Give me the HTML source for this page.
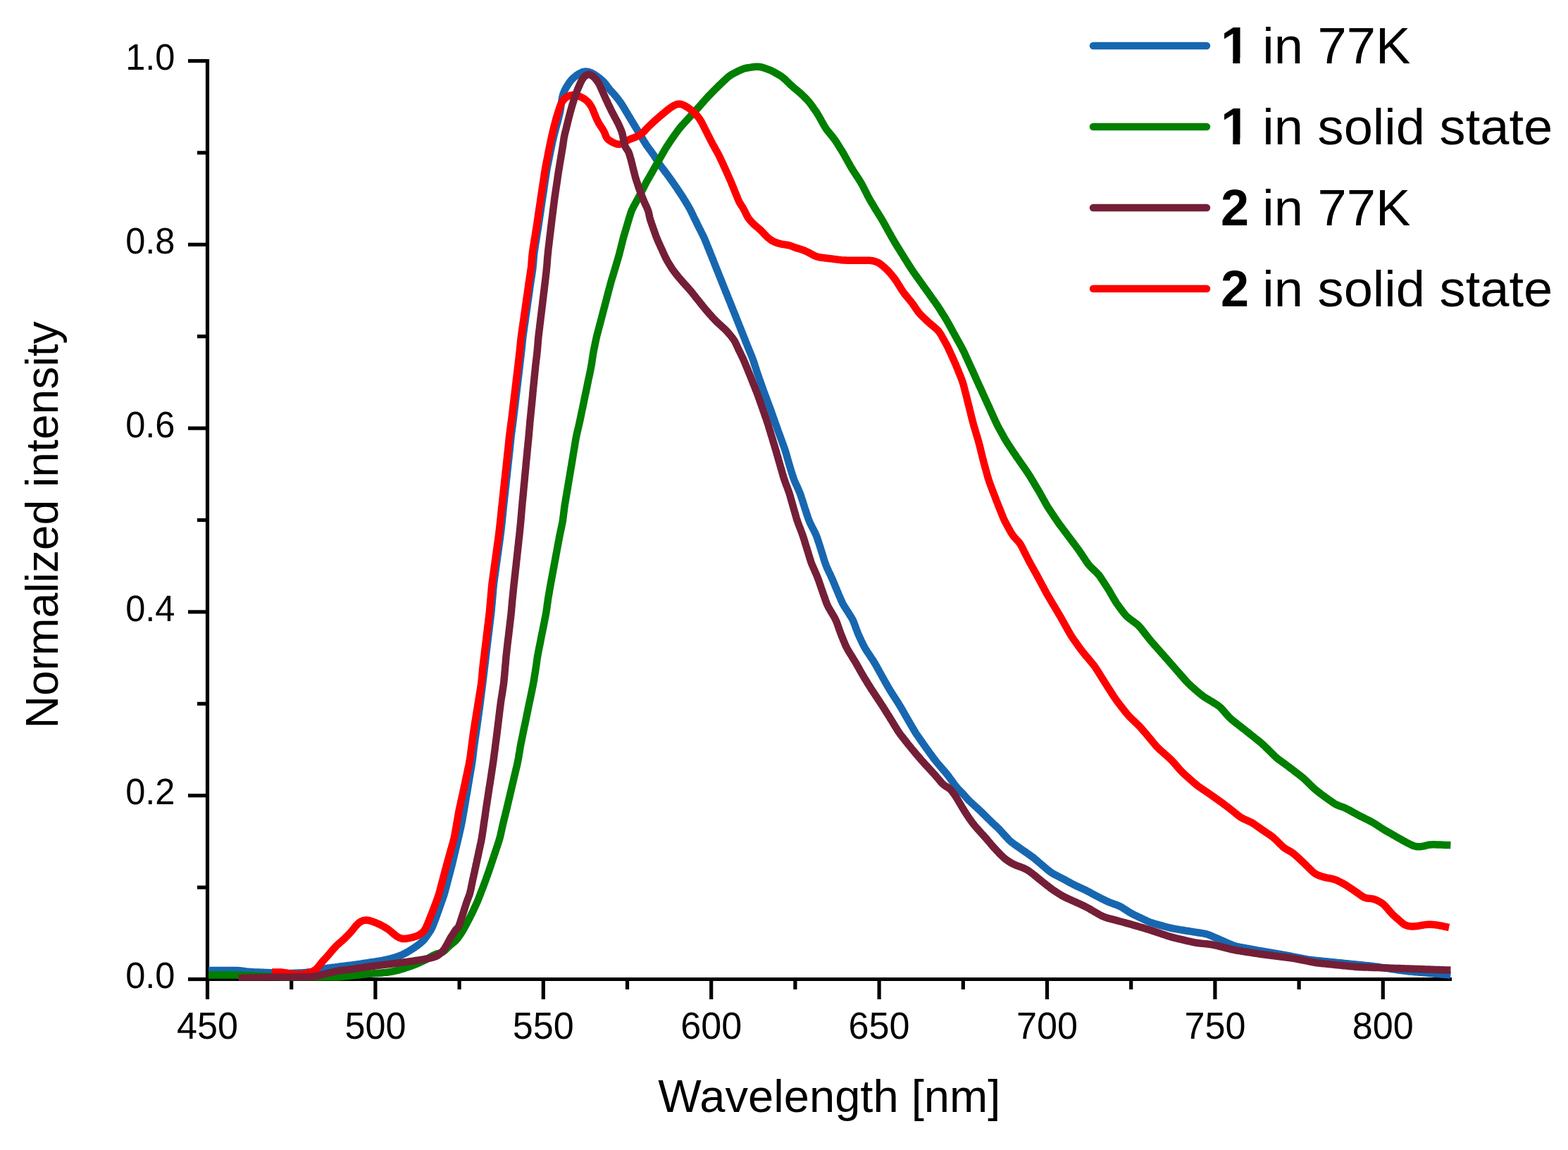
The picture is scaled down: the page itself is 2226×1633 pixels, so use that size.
<!DOCTYPE html><html><head><meta charset="utf-8"><title>Normalized emission spectra</title><style>html,body{margin:0;padding:0;background:#fff;overflow:hidden}svg{display:block}text{font-family:"Liberation Sans",Arial,sans-serif;fill:#000}.n1{font-family:NanumGothic,"Liberation Sans",sans-serif;font-weight:800}.n2{font-weight:bold}</style></head><body>
<svg xmlns="http://www.w3.org/2000/svg" width="2226" height="1633" viewBox="0 0 2226 1633">
<rect width="2226" height="1633" fill="#fff"/>
<g stroke="#000" stroke-width="5.2" fill="none">
<path d="M294.5 84V1393.1"/>
<path d="M291.9 1390.5H2061"/>
<path d="M267 1390.5H294.5"/>
<path d="M280 1260.1H294.5"/>
<path d="M267 1129.7H294.5"/>
<path d="M280 999.3H294.5"/>
<path d="M267 868.9H294.5"/>
<path d="M280 738.5H294.5"/>
<path d="M267 608.1H294.5"/>
<path d="M280 477.7H294.5"/>
<path d="M267 347.3H294.5"/>
<path d="M280 216.9H294.5"/>
<path d="M267 86.5H294.5"/>
<path d="M294.5 1390.5V1419"/>
<path d="M413.7 1390.5V1405"/>
<path d="M532.9 1390.5V1419"/>
<path d="M652.1 1390.5V1405"/>
<path d="M771.3 1390.5V1419"/>
<path d="M890.5 1390.5V1405"/>
<path d="M1009.7 1390.5V1419"/>
<path d="M1128.9 1390.5V1405"/>
<path d="M1248.1 1390.5V1419"/>
<path d="M1367.3 1390.5V1405"/>
<path d="M1486.5 1390.5V1419"/>
<path d="M1605.7 1390.5V1405"/>
<path d="M1724.9 1390.5V1419"/>
<path d="M1844.1 1390.5V1405"/>
<path d="M1963.3 1390.5V1419"/>
</g>
<clipPath id="pc"><rect x="294.5" y="80" width="1767" height="1312.5"/></clipPath>
<g clip-path="url(#pc)" fill="none" stroke-width="10.5" stroke-linejoin="round" stroke-linecap="butt">
<path d="M296.0 1378.0L298.0 1378.0 300.0 1378.0 302.0 1378.0 304.0 1378.0 306.0 1378.0 308.0 1378.0 310.0 1378.0 312.0 1378.0 314.0 1378.0 316.0 1378.0 318.0 1378.0 320.0 1378.0 322.0 1378.0 324.0 1378.0 326.0 1378.0 328.0 1378.0 330.0 1378.0 332.0 1378.0 334.0 1378.0 336.0 1378.1 338.0 1378.1 340.0 1378.3 342.0 1378.5 343.9 1378.7 345.9 1379.0 347.9 1379.3 349.9 1379.6 351.9 1379.8 353.8 1380.0 355.8 1380.1 357.8 1380.2 359.8 1380.3 361.8 1380.4 363.8 1380.5 365.8 1380.5 367.8 1380.6 369.8 1380.7 371.8 1380.8 373.8 1380.8 375.8 1380.9 377.8 1381.0 379.8 1381.1 381.8 1381.2 383.8 1381.3 385.8 1381.5 387.8 1381.6 389.8 1381.7 391.8 1381.8 393.8 1381.9 395.8 1381.9 397.8 1382.0 399.8 1382.0 401.8 1382.0 403.8 1382.0 405.8 1382.0 407.8 1382.0 409.8 1382.0 411.8 1381.9 413.8 1381.9 415.8 1381.9 417.8 1381.8 419.8 1381.8 421.8 1381.7 423.8 1381.6 425.8 1381.6 427.8 1381.5 429.8 1381.3 431.8 1381.2 433.7 1380.9 435.7 1380.7 437.7 1380.4 439.7 1380.1 441.7 1379.9 443.6 1379.6 445.6 1379.2 447.6 1378.9 449.5 1378.4 451.5 1378.0 453.4 1377.4 455.3 1376.9 457.2 1376.4 459.2 1375.9 461.1 1375.5 463.1 1375.1 465.0 1374.8 467.0 1374.5 469.0 1374.3 471.0 1374.0 473.0 1373.8 475.0 1373.6 477.0 1373.3 478.9 1373.1 480.9 1372.8 482.9 1372.5 484.9 1372.2 486.9 1372.0 488.8 1371.7 490.8 1371.5 492.8 1371.2 494.8 1371.0 496.8 1370.8 498.8 1370.6 500.8 1370.3 502.7 1370.1 504.7 1369.8 506.7 1369.5 508.7 1369.2 510.7 1368.9 512.6 1368.6 514.6 1368.3 516.6 1368.0 518.6 1367.7 520.5 1367.4 522.5 1367.1 524.5 1366.8 526.5 1366.5 528.5 1366.2 530.4 1365.9 532.4 1365.6 534.4 1365.3 536.4 1365.0 538.3 1364.7 540.3 1364.3 542.3 1364.0 544.2 1363.6 546.2 1363.1 548.1 1362.7 550.1 1362.3 552.0 1361.8 554.0 1361.4 555.9 1360.9 557.8 1360.3 559.8 1359.8 561.7 1359.2 563.6 1358.5 565.5 1357.9 567.3 1357.2 569.2 1356.5 571.0 1355.7 572.8 1354.8 574.6 1353.9 576.3 1353.0 578.1 1352.0 579.8 1351.0 581.5 1350.0 583.2 1348.9 584.9 1347.8 586.6 1346.8 588.3 1345.6 589.9 1344.5 591.5 1343.4 593.2 1342.2 594.7 1341.0 596.3 1339.7 597.8 1338.4 599.3 1337.1 600.7 1335.7 602.0 1334.2 603.3 1332.7 604.5 1331.1 605.7 1329.5 606.8 1327.8 607.9 1326.2 609.1 1324.5 610.2 1322.9 611.3 1321.2 612.2 1319.5 613.1 1317.7 614.0 1315.9 614.7 1314.1 615.4 1312.2 616.2 1310.4 616.9 1308.5 617.6 1306.6 618.3 1304.8 619.0 1302.9 619.7 1301.0 620.4 1299.1 621.0 1297.2 621.7 1295.4 622.4 1293.5 623.0 1291.6 623.7 1289.7 624.4 1287.8 625.0 1285.9 625.7 1284.0 626.4 1282.1 627.0 1280.3 627.7 1278.4 628.4 1276.5 629.0 1274.6 629.7 1272.7 630.3 1270.8 630.9 1268.9 631.4 1267.0 632.0 1265.1 632.5 1263.1 633.0 1261.2 633.5 1259.3 634.0 1257.3 634.5 1255.4 635.0 1253.5 635.5 1251.5 636.0 1249.6 636.5 1247.6 637.0 1245.7 637.5 1243.8 638.1 1241.8 638.6 1239.9 639.1 1238.0 639.6 1236.0 640.1 1234.1 640.6 1232.2 641.1 1230.2 641.6 1228.3 642.1 1226.4 642.5 1224.4 643.0 1222.5 643.5 1220.5 643.9 1218.6 644.4 1216.6 644.8 1214.7 645.3 1212.7 645.8 1210.8 646.2 1208.8 646.7 1206.9 647.1 1205.0 647.6 1203.0 648.1 1201.1 648.5 1199.1 649.0 1197.2 649.5 1195.2 649.9 1193.3 650.4 1191.3 650.8 1189.4 651.3 1187.4 651.7 1185.5 652.2 1183.5 652.6 1181.6 653.1 1179.6 653.5 1177.7 654.0 1175.7 654.4 1173.8 654.8 1171.8 655.2 1169.9 655.6 1167.9 656.0 1165.9 656.3 1164.0 656.7 1162.0 657.0 1160.0 657.4 1158.1 657.7 1156.1 658.1 1154.1 658.4 1152.2 658.8 1150.2 659.1 1148.2 659.4 1146.2 659.8 1144.3 660.1 1142.3 660.4 1140.3 660.8 1138.4 661.1 1136.4 661.4 1134.4 661.8 1132.4 662.1 1130.5 662.5 1128.5 662.8 1126.5 663.1 1124.6 663.5 1122.6 663.8 1120.6 664.1 1118.6 664.5 1116.7 664.8 1114.7 665.1 1112.7 665.5 1110.8 665.8 1108.8 666.1 1106.8 666.5 1104.8 666.8 1102.9 667.1 1100.9 667.5 1098.9 667.8 1097.0 668.2 1095.0 668.5 1093.0 668.8 1091.0 669.2 1089.1 669.5 1087.1 669.8 1085.1 670.1 1083.1 670.4 1081.2 670.7 1079.2 671.0 1077.2 671.2 1075.2 671.5 1073.2 671.7 1071.3 671.9 1069.3 672.2 1067.3 672.4 1065.3 672.6 1063.3 672.9 1061.3 673.1 1059.3 673.4 1057.4 673.7 1055.4 674.0 1053.4 674.2 1051.4 674.5 1049.4 674.8 1047.5 675.1 1045.5 675.4 1043.5 675.7 1041.5 676.0 1039.5 676.2 1037.6 676.5 1035.6 676.8 1033.6 677.1 1031.6 677.4 1029.6 677.6 1027.7 677.9 1025.7 678.2 1023.7 678.5 1021.7 678.7 1019.7 679.0 1017.8 679.3 1015.8 679.6 1013.8 679.8 1011.8 680.1 1009.8 680.4 1007.9 680.7 1005.9 681.0 1003.9 681.2 1001.9 681.5 999.9 681.7 997.9 682.0 996.0 682.2 994.0 682.5 992.0 682.7 990.0 683.0 988.0 683.2 986.0 683.5 984.0 683.7 982.1 684.0 980.1 684.2 978.1 684.5 976.1 684.7 974.1 685.0 972.1 685.2 970.2 685.4 968.2 685.7 966.2 685.9 964.2 686.2 962.2 686.4 960.2 686.7 958.2 686.9 956.3 687.2 954.3 687.4 952.3 687.6 950.3 687.9 948.3 688.1 946.3 688.3 944.3 688.6 942.4 688.8 940.4 689.0 938.4 689.3 936.4 689.5 934.4 689.7 932.4 690.0 930.4 690.2 928.5 690.4 926.5 690.7 924.5 690.9 922.5 691.2 920.5 691.4 918.5 691.6 916.5 691.9 914.6 692.1 912.6 692.4 910.6 692.6 908.6 692.8 906.6 693.1 904.6 693.3 902.6 693.6 900.7 693.8 898.7 694.1 896.7 694.3 894.7 694.5 892.7 694.8 890.7 695.0 888.7 695.3 886.8 695.5 884.8 695.7 882.8 696.0 880.8 696.2 878.8 696.5 876.8 696.7 874.8 696.9 872.9 697.2 870.9 697.4 868.9 697.6 866.9 697.8 864.9 697.9 862.9 698.1 860.9 698.3 858.9 698.5 856.9 698.7 854.9 698.8 853.0 699.0 851.0 699.2 849.0 699.4 847.0 699.5 845.0 699.7 843.0 699.9 841.0 700.0 839.0 700.2 837.0 700.4 835.0 700.6 833.0 700.8 831.0 701.0 829.1 701.2 827.1 701.5 825.1 701.8 823.1 702.0 821.1 702.3 819.1 702.6 817.2 702.9 815.2 703.1 813.2 703.4 811.2 703.7 809.2 704.0 807.3 704.2 805.3 704.5 803.3 704.8 801.3 705.1 799.3 705.3 797.3 705.6 795.4 705.9 793.4 706.1 791.4 706.4 789.4 706.7 787.4 707.0 785.5 707.2 783.5 707.5 781.5 707.8 779.5 708.1 777.5 708.3 775.6 708.6 773.6 708.9 771.6 709.2 769.6 709.4 767.6 709.7 765.6 710.0 763.7 710.2 761.7 710.5 759.7 710.7 757.7 711.0 755.7 711.2 753.7 711.4 751.8 711.7 749.8 711.9 747.8 712.1 745.8 712.4 743.8 712.6 741.8 712.8 739.8 713.0 737.8 713.2 735.9 713.4 733.9 713.6 731.9 713.8 729.9 714.0 727.9 714.2 725.9 714.4 723.9 714.6 721.9 714.8 719.9 715.0 717.9 715.2 716.0 715.5 714.0 715.7 712.0 715.9 710.0 716.1 708.0 716.3 706.0 716.5 704.0 716.8 702.0 717.0 700.1 717.2 698.1 717.4 696.1 717.6 694.1 717.8 692.1 718.1 690.1 718.3 688.1 718.5 686.1 718.7 684.1 718.9 682.2 719.1 680.2 719.3 678.2 719.6 676.2 719.8 674.2 720.0 672.2 720.2 670.2 720.4 668.2 720.6 666.2 720.9 664.3 721.1 662.3 721.3 660.3 721.5 658.3 721.7 656.3 721.9 654.3 722.2 652.3 722.4 650.3 722.6 648.4 722.8 646.4 723.0 644.4 723.2 642.4 723.4 640.4 723.7 638.4 723.9 636.4 724.1 634.4 724.3 632.4 724.5 630.5 724.7 628.5 724.9 626.5 725.1 624.5 725.3 622.5 725.5 620.5 725.7 618.5 726.0 616.5 726.2 614.6 726.5 612.6 726.8 610.6 727.0 608.6 727.3 606.6 727.6 604.6 727.8 602.7 728.1 600.7 728.3 598.7 728.6 596.7 728.8 594.7 729.1 592.7 729.3 590.7 729.5 588.8 729.8 586.8 730.0 584.8 730.3 582.8 730.5 580.8 730.7 578.8 731.0 576.8 731.2 574.9 731.5 572.9 731.7 570.9 731.9 568.9 732.2 566.9 732.4 564.9 732.6 562.9 732.9 561.0 733.1 559.0 733.4 557.0 733.6 555.0 733.8 553.0 734.1 551.0 734.3 549.0 734.6 547.1 734.8 545.1 735.0 543.1 735.3 541.1 735.5 539.1 735.7 537.1 736.0 535.1 736.2 533.2 736.5 531.2 736.7 529.2 736.9 527.2 737.2 525.2 737.4 523.2 737.6 521.2 737.9 519.3 738.1 517.3 738.3 515.3 738.6 513.3 738.8 511.3 739.0 509.3 739.3 507.3 739.5 505.4 739.7 503.4 739.9 501.4 740.1 499.4 740.4 497.4 740.6 495.4 740.8 493.4 741.0 491.4 741.2 489.4 741.4 487.5 741.6 485.5 741.8 483.5 742.0 481.5 742.2 479.5 742.5 477.5 742.7 475.5 743.0 473.6 743.3 471.6 743.6 469.6 743.9 467.6 744.1 465.6 744.4 463.7 744.7 461.7 745.0 459.7 745.3 457.7 745.6 455.7 745.8 453.8 746.1 451.8 746.4 449.8 746.7 447.8 747.0 445.8 747.3 443.9 747.5 441.9 747.8 439.9 748.1 437.9 748.4 435.9 748.7 434.0 748.9 432.0 749.2 430.0 749.5 428.0 749.8 426.0 750.1 424.1 750.4 422.1 750.6 420.1 750.9 418.1 751.2 416.1 751.5 414.2 751.8 412.2 752.0 410.2 752.3 408.2 752.6 406.2 752.9 404.3 753.2 402.3 753.5 400.3 753.8 398.3 754.1 396.3 754.4 394.4 754.7 392.4 755.0 390.4 755.3 388.4 755.6 386.5 755.9 384.5 756.2 382.5 756.4 380.5 756.6 378.5 756.8 376.5 757.0 374.5 757.2 372.6 757.3 370.6 757.5 368.6 757.6 366.6 757.8 364.6 758.0 362.6 758.2 360.6 758.4 358.6 758.7 356.6 759.0 354.7 759.3 352.7 759.6 350.7 759.9 348.7 760.2 346.8 760.5 344.8 760.9 342.8 761.2 340.8 761.5 338.9 761.8 336.9 762.1 334.9 762.4 332.9 762.7 331.0 763.1 329.0 763.4 327.0 763.7 325.0 764.0 323.1 764.3 321.1 764.6 319.1 764.9 317.1 765.2 315.1 765.5 313.2 765.8 311.2 766.1 309.2 766.4 307.2 766.7 305.3 767.0 303.3 767.3 301.3 767.6 299.3 767.8 297.3 768.1 295.4 768.4 293.4 768.7 291.4 769.0 289.4 769.3 287.4 769.6 285.5 769.9 283.5 770.2 281.5 770.5 279.5 770.8 277.6 771.1 275.6 771.4 273.6 771.7 271.6 772.0 269.6 772.3 267.7 772.5 265.7 772.8 263.7 773.1 261.7 773.4 259.8 773.7 257.8 774.0 255.8 774.3 253.8 774.6 251.8 774.9 249.9 775.2 247.9 775.5 245.9 775.8 243.9 776.1 242.0 776.5 240.0 776.8 238.0 777.2 236.1 777.6 234.1 778.0 232.1 778.4 230.2 778.8 228.2 779.2 226.3 779.6 224.3 780.0 222.3 780.4 220.4 780.8 218.4 781.2 216.5 781.6 214.5 782.0 212.5 782.4 210.6 782.8 208.6 783.2 206.7 783.6 204.7 784.0 202.8 784.5 200.8 784.9 198.8 785.4 196.9 785.8 195.0 786.3 193.0 786.8 191.1 787.3 189.1 787.8 187.2 788.3 185.3 788.8 183.3 789.3 181.4 789.8 179.5 790.3 177.5 790.9 175.6 791.4 173.7 791.9 171.7 792.4 169.8 792.9 167.9 793.4 165.9 793.9 164.0 794.3 162.0 794.8 160.1 795.2 158.1 795.5 156.2 795.8 154.2 796.1 152.2 796.4 150.2 796.7 148.3 797.0 146.3 797.3 144.3 797.6 142.3 797.9 140.4 798.3 138.4 798.7 136.5 799.2 134.5 799.8 132.6 800.6 130.8 801.3 129.0 802.2 127.2 803.2 125.4 804.2 123.7 805.2 122.0 806.2 120.3 807.3 118.6 808.5 117.0 809.6 115.4 810.9 113.9 812.3 112.4 813.7 111.0 815.2 109.7 816.7 108.4 818.3 107.2 819.9 106.1 821.6 105.0 823.3 104.1 825.1 103.2 826.9 102.4 828.7 101.9 830.6 101.6 832.5 101.6 834.3 101.8 836.2 102.3 838.0 102.9 839.9 103.7 841.6 104.6 843.3 105.6 845.0 106.6 846.7 107.8 848.3 108.9 849.9 110.1 851.5 111.3 853.0 112.6 854.5 113.9 856.0 115.3 857.4 116.7 858.7 118.2 860.0 119.7 861.2 121.3 862.4 122.9 863.5 124.5 864.8 126.1 866.0 127.6 867.3 129.1 868.7 130.6 870.0 132.0 871.4 133.5 872.7 135.0 874.0 136.5 875.3 138.1 876.5 139.6 877.7 141.2 878.9 142.8 880.1 144.4 881.3 146.1 882.4 147.7 883.4 149.4 884.5 151.1 885.6 152.8 886.6 154.5 887.6 156.2 888.6 158.0 889.7 159.7 890.7 161.4 891.7 163.1 892.8 164.8 893.8 166.5 894.8 168.2 895.8 170.0 896.9 171.7 897.9 173.4 898.9 175.1 900.0 176.8 901.0 178.5 902.0 180.2 903.1 182.0 904.1 183.7 905.2 185.4 906.2 187.1 907.3 188.8 908.3 190.5 909.4 192.2 910.4 193.9 911.4 195.6 912.4 197.3 913.4 199.1 914.5 200.8 915.5 202.5 916.5 204.2 917.6 205.9 918.8 207.5 919.9 209.1 921.1 210.7 922.3 212.3 923.5 213.9 924.7 215.5 925.9 217.2 927.0 218.8 928.2 220.4 929.2 222.1 930.3 223.8 931.4 225.5 932.4 227.2 933.5 228.9 934.6 230.6 935.7 232.3 936.8 233.9 937.9 235.5 939.1 237.1 940.3 238.7 941.5 240.3 942.8 241.9 944.0 243.5 945.2 245.1 946.4 246.7 947.6 248.3 948.8 249.9 949.9 251.5 951.1 253.2 952.3 254.8 953.4 256.4 954.6 258.0 955.7 259.7 956.9 261.3 958.0 263.0 959.1 264.6 960.3 266.3 961.4 267.9 962.5 269.6 963.6 271.3 964.7 272.9 965.8 274.6 966.9 276.3 968.0 277.9 969.1 279.6 970.2 281.3 971.2 283.0 972.3 284.7 973.3 286.4 974.3 288.1 975.4 289.8 976.4 291.5 977.4 293.3 978.4 295.0 979.4 296.8 980.3 298.5 981.2 300.3 982.0 302.1 982.9 303.9 983.8 305.7 984.6 307.5 985.5 309.3 986.4 311.1 987.3 312.9 988.2 314.7 989.1 316.5 989.9 318.3 990.8 320.1 991.7 321.9 992.6 323.7 993.5 325.4 994.4 327.2 995.3 329.0 996.2 330.8 997.1 332.6 998.0 334.4 998.8 336.2 999.7 338.0 1000.5 339.8 1001.3 341.7 1002.0 343.5 1002.8 345.4 1003.5 347.2 1004.3 349.1 1005.0 351.0 1005.8 352.8 1006.5 354.7 1007.3 356.5 1008.0 358.4 1008.7 360.2 1009.5 362.1 1010.2 363.9 1011.0 365.8 1011.7 367.7 1012.5 369.5 1013.2 371.4 1013.9 373.2 1014.7 375.1 1015.4 377.0 1016.2 378.8 1016.9 380.7 1017.6 382.5 1018.4 384.4 1019.1 386.2 1019.9 388.1 1020.6 390.0 1021.3 391.8 1022.1 393.7 1022.8 395.5 1023.6 397.4 1024.3 399.2 1025.1 401.1 1025.8 403.0 1026.5 404.8 1027.3 406.7 1028.0 408.5 1028.8 410.4 1029.5 412.2 1030.3 414.1 1031.0 415.9 1031.8 417.8 1032.5 419.7 1033.3 421.5 1034.0 423.4 1034.8 425.2 1035.5 427.1 1036.3 428.9 1037.0 430.8 1037.7 432.6 1038.5 434.5 1039.2 436.4 1040.0 438.2 1040.7 440.1 1041.5 441.9 1042.2 443.8 1043.0 445.6 1043.7 447.5 1044.5 449.3 1045.2 451.2 1045.9 453.1 1046.7 454.9 1047.4 456.8 1048.2 458.6 1048.9 460.5 1049.6 462.4 1050.4 464.2 1051.1 466.1 1051.8 467.9 1052.6 469.8 1053.3 471.6 1054.1 473.5 1054.8 475.4 1055.5 477.2 1056.3 479.1 1057.0 480.9 1057.7 482.8 1058.5 484.7 1059.2 486.5 1060.0 488.4 1060.7 490.2 1061.5 492.1 1062.2 493.9 1063.0 495.8 1063.7 497.6 1064.5 499.5 1065.2 501.3 1066.0 503.2 1066.8 505.0 1067.5 506.9 1068.2 508.8 1068.9 510.6 1069.6 512.5 1070.2 514.4 1070.8 516.3 1071.4 518.2 1072.0 520.1 1072.7 522.0 1073.3 523.9 1073.9 525.9 1074.5 527.8 1075.1 529.6 1075.8 531.5 1076.4 533.4 1077.1 535.3 1077.7 537.2 1078.4 539.1 1079.1 541.0 1079.7 542.9 1080.4 544.8 1081.1 546.6 1081.7 548.5 1082.4 550.4 1083.1 552.3 1083.7 554.2 1084.4 556.1 1085.1 557.9 1085.8 559.8 1086.5 561.7 1087.2 563.6 1087.9 565.4 1088.6 567.3 1089.3 569.2 1090.0 571.1 1090.7 572.9 1091.4 574.8 1092.1 576.7 1092.8 578.5 1093.5 580.4 1094.2 582.3 1094.9 584.2 1095.5 586.1 1096.2 588.0 1096.8 589.8 1097.5 591.7 1098.2 593.6 1098.8 595.5 1099.5 597.4 1100.2 599.3 1100.8 601.2 1101.5 603.0 1102.2 604.9 1102.9 606.8 1103.6 608.7 1104.2 610.6 1104.9 612.5 1105.6 614.3 1106.3 616.2 1107.0 618.1 1107.6 620.0 1108.3 621.9 1109.0 623.7 1109.7 625.6 1110.4 627.5 1111.0 629.4 1111.7 631.3 1112.4 633.1 1113.1 635.0 1113.7 636.9 1114.4 638.8 1115.0 640.7 1115.6 642.6 1116.1 644.5 1116.7 646.5 1117.2 648.4 1117.8 650.3 1118.3 652.2 1118.9 654.2 1119.4 656.1 1120.0 658.0 1120.5 659.9 1121.1 661.8 1121.7 663.8 1122.2 665.7 1122.8 667.6 1123.4 669.5 1124.0 671.4 1124.6 673.3 1125.2 675.2 1125.8 677.1 1126.5 679.0 1127.2 680.9 1127.9 682.7 1128.7 684.6 1129.5 686.4 1130.3 688.2 1131.2 690.0 1132.0 691.9 1132.8 693.7 1133.6 695.5 1134.4 697.3 1135.2 699.2 1135.9 701.0 1136.6 702.9 1137.2 704.8 1137.8 706.7 1138.5 708.6 1139.1 710.5 1139.7 712.4 1140.3 714.3 1140.9 716.2 1141.5 718.1 1142.1 720.0 1142.7 721.9 1143.4 723.9 1144.0 725.8 1144.6 727.7 1145.2 729.6 1145.8 731.5 1146.5 733.4 1147.1 735.3 1147.8 737.1 1148.5 739.0 1149.2 740.8 1150.1 742.7 1150.9 744.4 1151.8 746.2 1152.7 748.0 1153.6 749.8 1154.6 751.6 1155.5 753.4 1156.4 755.1 1157.2 756.9 1158.1 758.7 1158.9 760.6 1159.6 762.4 1160.3 764.3 1160.9 766.2 1161.5 768.1 1162.2 770.0 1162.8 771.9 1163.4 773.8 1164.0 775.7 1164.6 777.6 1165.2 779.5 1165.8 781.4 1166.4 783.3 1167.0 785.3 1167.6 787.2 1168.2 789.1 1168.8 791.0 1169.3 792.9 1169.9 794.8 1170.5 796.7 1171.2 798.6 1171.8 800.5 1172.5 802.4 1173.2 804.2 1174.0 806.1 1174.8 807.9 1175.7 809.7 1176.5 811.5 1177.4 813.3 1178.3 815.1 1179.1 816.9 1179.9 818.8 1180.8 820.6 1181.6 822.4 1182.4 824.3 1183.1 826.1 1183.9 827.9 1184.7 829.8 1185.4 831.6 1186.2 833.5 1187.0 835.3 1187.8 837.2 1188.5 839.0 1189.3 840.9 1190.1 842.7 1190.8 844.6 1191.6 846.4 1192.4 848.2 1193.2 850.1 1193.9 851.9 1194.8 853.7 1195.6 855.5 1196.5 857.3 1197.5 859.0 1198.5 860.8 1199.6 862.5 1200.7 864.1 1201.7 865.8 1202.8 867.5 1203.9 869.2 1205.0 870.9 1206.0 872.6 1207.1 874.3 1208.2 876.0 1209.2 877.7 1210.1 879.4 1211.0 881.2 1211.8 883.0 1212.5 884.9 1213.3 886.8 1213.9 888.6 1214.6 890.5 1215.3 892.4 1216.0 894.3 1216.7 896.1 1217.4 898.0 1218.2 899.8 1219.0 901.7 1219.8 903.5 1220.6 905.3 1221.5 907.1 1222.3 909.0 1223.2 910.8 1224.0 912.6 1224.9 914.4 1225.7 916.2 1226.7 917.9 1227.6 919.7 1228.6 921.4 1229.7 923.1 1230.8 924.8 1231.9 926.5 1233.0 928.1 1234.1 929.8 1235.2 931.4 1236.3 933.1 1237.4 934.8 1238.6 936.4 1239.6 938.1 1240.7 939.8 1241.7 941.5 1242.7 943.2 1243.7 945.0 1244.7 946.7 1245.7 948.5 1246.6 950.2 1247.6 952.0 1248.5 953.7 1249.5 955.5 1250.5 957.2 1251.5 959.0 1252.4 960.7 1253.4 962.5 1254.4 964.2 1255.4 966.0 1256.3 967.7 1257.3 969.4 1258.3 971.2 1259.3 972.9 1260.3 974.7 1261.3 976.4 1262.3 978.1 1263.3 979.8 1264.4 981.5 1265.4 983.2 1266.5 984.9 1267.6 986.6 1268.7 988.3 1269.8 990.0 1270.9 991.6 1271.9 993.3 1273.0 995.0 1274.1 996.7 1275.2 998.4 1276.2 1000.1 1277.3 1001.8 1278.3 1003.5 1279.3 1005.2 1280.3 1006.9 1281.3 1008.7 1282.3 1010.4 1283.3 1012.1 1284.3 1013.9 1285.3 1015.6 1286.3 1017.4 1287.3 1019.1 1288.3 1020.8 1289.3 1022.6 1290.3 1024.3 1291.3 1026.0 1292.3 1027.8 1293.3 1029.5 1294.3 1031.2 1295.3 1033.0 1296.3 1034.7 1297.3 1036.4 1298.3 1038.1 1299.4 1039.8 1300.4 1041.5 1301.5 1043.2 1302.7 1044.8 1303.8 1046.4 1305.0 1048.1 1306.1 1049.7 1307.3 1051.4 1308.4 1053.0 1309.6 1054.6 1310.7 1056.3 1311.9 1057.9 1313.0 1059.5 1314.2 1061.2 1315.3 1062.8 1316.5 1064.4 1317.7 1066.0 1318.9 1067.7 1320.0 1069.3 1321.2 1070.9 1322.4 1072.5 1323.6 1074.1 1324.7 1075.7 1325.9 1077.4 1327.1 1078.9 1328.4 1080.5 1329.6 1082.1 1330.9 1083.6 1332.2 1085.1 1333.5 1086.6 1334.8 1088.2 1336.1 1089.7 1337.4 1091.2 1338.7 1092.7 1340.0 1094.2 1341.3 1095.7 1342.6 1097.3 1343.9 1098.8 1345.1 1100.4 1346.4 1102.0 1347.6 1103.6 1348.7 1105.2 1349.9 1106.8 1351.1 1108.4 1352.3 1110.0 1353.4 1111.6 1354.6 1113.3 1355.8 1114.9 1357.0 1116.5 1358.3 1118.0 1359.5 1119.5 1360.9 1121.0 1362.3 1122.4 1363.7 1123.8 1365.1 1125.2 1366.5 1126.6 1367.9 1128.1 1369.2 1129.6 1370.5 1131.1 1371.8 1132.6 1373.1 1134.1 1374.5 1135.6 1375.9 1137.0 1377.3 1138.4 1378.8 1139.7 1380.3 1141.1 1381.8 1142.4 1383.3 1143.7 1384.7 1145.1 1386.2 1146.4 1387.7 1147.8 1389.2 1149.1 1390.6 1150.5 1392.1 1151.9 1393.5 1153.3 1394.9 1154.7 1396.4 1156.1 1397.8 1157.5 1399.2 1158.9 1400.6 1160.3 1402.0 1161.7 1403.4 1163.1 1404.9 1164.5 1406.3 1165.9 1407.7 1167.3 1409.2 1168.7 1410.6 1170.1 1412.1 1171.4 1413.6 1172.8 1415.0 1174.1 1416.5 1175.5 1417.9 1176.9 1419.3 1178.4 1420.6 1179.8 1422.0 1181.3 1423.3 1182.8 1424.7 1184.3 1426.0 1185.8 1427.4 1187.2 1428.7 1188.7 1430.1 1190.2 1431.4 1191.6 1432.8 1193.1 1434.3 1194.4 1435.8 1195.7 1437.4 1196.9 1439.0 1198.1 1440.6 1199.3 1442.2 1200.4 1443.9 1201.6 1445.5 1202.7 1447.2 1203.9 1448.8 1205.0 1450.4 1206.2 1452.1 1207.3 1453.7 1208.4 1455.4 1209.6 1457.0 1210.7 1458.6 1211.9 1460.3 1213.0 1461.9 1214.2 1463.5 1215.3 1465.2 1216.5 1466.8 1217.7 1468.3 1218.9 1469.9 1220.2 1471.4 1221.5 1472.9 1222.8 1474.4 1224.1 1475.9 1225.4 1477.4 1226.7 1479.0 1228.0 1480.5 1229.3 1482.0 1230.6 1483.5 1231.9 1485.1 1233.2 1486.6 1234.5 1488.1 1235.8 1489.7 1237.0 1491.3 1238.2 1492.9 1239.3 1494.6 1240.4 1496.3 1241.4 1498.1 1242.3 1499.9 1243.2 1501.6 1244.1 1503.4 1245.0 1505.2 1246.0 1507.0 1246.9 1508.8 1247.8 1510.5 1248.7 1512.3 1249.7 1514.0 1250.6 1515.8 1251.6 1517.6 1252.6 1519.3 1253.5 1521.1 1254.5 1522.8 1255.4 1524.6 1256.3 1526.4 1257.2 1528.2 1258.1 1530.0 1258.9 1531.8 1259.7 1533.7 1260.6 1535.5 1261.4 1537.3 1262.2 1539.1 1263.1 1540.9 1263.9 1542.7 1264.8 1544.5 1265.8 1546.2 1266.7 1548.0 1267.7 1549.7 1268.6 1551.5 1269.6 1553.3 1270.5 1555.0 1271.5 1556.8 1272.4 1558.6 1273.3 1560.3 1274.2 1562.1 1275.2 1563.9 1276.1 1565.7 1276.9 1567.5 1277.8 1569.3 1278.7 1571.1 1279.6 1572.9 1280.4 1574.7 1281.2 1576.6 1281.9 1578.5 1282.6 1580.4 1283.3 1582.2 1283.9 1584.1 1284.6 1586.0 1285.3 1587.8 1286.1 1589.6 1286.9 1591.4 1287.8 1593.1 1288.8 1594.8 1289.9 1596.5 1291.0 1598.2 1292.0 1599.9 1293.1 1601.5 1294.2 1603.2 1295.3 1605.0 1296.3 1606.7 1297.3 1608.5 1298.2 1610.2 1299.1 1612.0 1300.0 1613.8 1300.8 1615.6 1301.7 1617.5 1302.6 1619.3 1303.4 1621.1 1304.3 1622.9 1305.1 1624.7 1306.0 1626.5 1306.8 1628.3 1307.7 1630.1 1308.5 1632.0 1309.3 1633.8 1310.0 1635.7 1310.6 1637.6 1311.2 1639.5 1311.8 1641.5 1312.3 1643.4 1312.8 1645.3 1313.4 1647.2 1313.9 1649.2 1314.4 1651.1 1314.9 1653.0 1315.5 1655.0 1316.0 1656.9 1316.5 1658.8 1317.0 1660.8 1317.5 1662.7 1317.9 1664.7 1318.4 1666.6 1318.7 1668.6 1319.1 1670.6 1319.4 1672.5 1319.7 1674.5 1320.1 1676.5 1320.4 1678.5 1320.7 1680.4 1321.0 1682.4 1321.4 1684.4 1321.7 1686.4 1322.0 1688.3 1322.3 1690.3 1322.6 1692.3 1322.9 1694.3 1323.3 1696.2 1323.6 1698.2 1323.9 1700.2 1324.2 1702.2 1324.5 1704.1 1324.8 1706.1 1325.1 1708.1 1325.4 1710.0 1325.8 1712.0 1326.2 1713.9 1326.8 1715.8 1327.4 1717.6 1328.1 1719.5 1328.9 1721.3 1329.7 1723.1 1330.5 1725.0 1331.3 1726.8 1332.1 1728.6 1332.9 1730.5 1333.7 1732.3 1334.5 1734.1 1335.3 1735.9 1336.1 1737.8 1336.9 1739.6 1337.7 1741.4 1338.5 1743.3 1339.4 1745.1 1340.2 1746.9 1340.9 1748.8 1341.7 1750.6 1342.4 1752.5 1343.1 1754.4 1343.6 1756.4 1344.1 1758.3 1344.5 1760.3 1344.9 1762.2 1345.2 1764.2 1345.6 1766.2 1346.0 1768.1 1346.3 1770.1 1346.7 1772.1 1347.0 1774.0 1347.4 1776.0 1347.8 1778.0 1348.1 1779.9 1348.5 1781.9 1348.9 1783.9 1349.2 1785.8 1349.6 1787.8 1349.9 1789.8 1350.3 1791.7 1350.6 1793.7 1351.0 1795.7 1351.3 1797.7 1351.6 1799.6 1352.0 1801.6 1352.3 1803.6 1352.6 1805.5 1353.0 1807.5 1353.3 1809.5 1353.6 1811.5 1354.0 1813.4 1354.3 1815.4 1354.6 1817.4 1355.0 1819.4 1355.3 1821.3 1355.7 1823.3 1356.0 1825.3 1356.4 1827.2 1356.7 1829.2 1357.1 1831.1 1357.5 1833.1 1357.9 1835.1 1358.3 1837.0 1358.7 1839.0 1359.1 1841.0 1359.5 1842.9 1359.8 1844.9 1360.2 1846.8 1360.6 1848.8 1361.0 1850.8 1361.4 1852.7 1361.8 1854.7 1362.1 1856.7 1362.5 1858.6 1362.8 1860.6 1363.0 1862.6 1363.3 1864.6 1363.5 1866.6 1363.7 1868.6 1363.9 1870.6 1364.1 1872.6 1364.3 1874.5 1364.5 1876.5 1364.7 1878.5 1364.9 1880.5 1365.1 1882.5 1365.3 1884.5 1365.5 1886.5 1365.7 1888.5 1365.9 1890.5 1366.1 1892.5 1366.3 1894.4 1366.5 1896.4 1366.7 1898.4 1366.9 1900.4 1367.1 1902.4 1367.3 1904.4 1367.5 1906.4 1367.7 1908.4 1367.9 1910.4 1368.1 1912.4 1368.3 1914.3 1368.5 1916.3 1368.7 1918.3 1368.9 1920.3 1369.1 1922.3 1369.3 1924.3 1369.5 1926.3 1369.7 1928.3 1369.9 1930.3 1370.1 1932.3 1370.3 1934.2 1370.5 1936.2 1370.7 1938.2 1370.9 1940.2 1371.1 1942.2 1371.3 1944.2 1371.5 1946.2 1371.7 1948.2 1371.9 1950.2 1372.2 1952.1 1372.4 1954.1 1372.7 1956.1 1373.0 1958.1 1373.3 1960.0 1373.6 1962.0 1373.9 1964.0 1374.2 1966.0 1374.5 1968.0 1374.8 1969.9 1375.1 1971.9 1375.4 1973.9 1375.7 1975.9 1376.0 1977.8 1376.3 1979.8 1376.6 1981.8 1376.9 1983.8 1377.2 1985.8 1377.5 1987.7 1377.8 1989.7 1378.0 1991.7 1378.3 1993.7 1378.6 1995.7 1378.8 1997.6 1379.1 1999.6 1379.3 2001.6 1379.5 2003.6 1379.6 2005.6 1379.8 2007.6 1380.0 2009.6 1380.2 2011.6 1380.3 2013.6 1380.5 2015.6 1380.7 2017.6 1380.9 2019.6 1381.1 2021.5 1381.2 2023.5 1381.4 2025.5 1381.6 2027.5 1381.8 2029.5 1381.9 2031.5 1382.1 2033.5 1382.3 2035.5 1382.5 2037.5 1382.7 2039.5 1382.8 2041.5 1383.0 2043.5 1383.2 2045.5 1383.4 2047.4 1383.5 2049.4 1383.7 2051.4 1383.9 2053.4 1384.1 2055.4 1384.2 2057.4 1384.4 2059.4 1384.6" stroke="#1767b0"/>
<path d="M296.0 1384.4L298.0 1384.4 300.0 1384.4 302.0 1384.4 304.0 1384.4 306.0 1384.4 308.0 1384.5 310.0 1384.5 312.0 1384.5 314.0 1384.5 316.0 1384.5 318.0 1384.5 320.0 1384.5 322.0 1384.5 324.0 1384.5 326.0 1384.5 328.0 1384.6 330.0 1384.6 332.0 1384.6 334.0 1384.6 336.0 1384.6 338.0 1384.7 340.0 1384.7 342.0 1384.8 344.0 1384.9 346.0 1385.0 348.0 1385.1 350.0 1385.1 352.0 1385.2 354.0 1385.3 356.0 1385.4 358.0 1385.5 360.0 1385.6 362.0 1385.7 364.0 1385.8 366.0 1385.9 368.0 1386.0 370.0 1386.0 372.0 1386.1 374.0 1386.2 376.0 1386.3 378.0 1386.4 380.0 1386.5 382.0 1386.6 384.0 1386.7 386.0 1386.8 388.0 1386.9 390.0 1387.0 392.0 1387.1 394.0 1387.2 396.0 1387.3 398.0 1387.4 399.9 1387.5 401.9 1387.6 403.9 1387.7 405.9 1387.8 407.9 1387.9 409.9 1388.0 411.9 1388.1 413.9 1388.2 415.9 1388.3 417.9 1388.4 419.9 1388.5 421.9 1388.5 423.9 1388.6 425.9 1388.7 427.9 1388.7 429.9 1388.8 431.9 1388.8 433.9 1388.9 435.9 1388.9 437.9 1389.0 439.9 1389.0 441.9 1389.1 443.9 1389.1 445.9 1389.2 447.9 1389.2 449.9 1389.2 451.9 1389.2 453.9 1389.1 455.9 1389.1 457.9 1389.0 459.9 1388.9 461.9 1388.8 463.9 1388.7 465.9 1388.6 467.9 1388.5 469.9 1388.4 471.9 1388.2 473.9 1388.1 475.9 1387.8 477.9 1387.6 479.9 1387.4 481.8 1387.2 483.8 1387.0 485.8 1386.8 487.8 1386.6 489.8 1386.4 491.8 1386.2 493.8 1386.0 495.8 1385.8 497.8 1385.6 499.8 1385.4 501.7 1385.2 503.7 1385.0 505.7 1384.8 507.7 1384.6 509.7 1384.4 511.7 1384.2 513.7 1383.9 515.7 1383.7 517.7 1383.5 519.6 1383.3 521.6 1383.1 523.6 1382.9 525.6 1382.7 527.6 1382.6 529.6 1382.4 531.6 1382.2 533.6 1382.1 535.6 1381.9 537.6 1381.8 539.6 1381.7 541.6 1381.5 543.6 1381.3 545.6 1381.1 547.5 1380.9 549.5 1380.7 551.5 1380.4 553.5 1380.1 555.4 1379.7 557.4 1379.4 559.4 1379.0 561.3 1378.5 563.3 1378.1 565.2 1377.6 567.1 1377.1 569.1 1376.5 571.0 1376.0 572.9 1375.4 574.8 1374.7 576.7 1374.1 578.6 1373.5 580.5 1372.8 582.4 1372.2 584.2 1371.5 586.1 1370.8 588.0 1370.1 589.9 1369.4 591.7 1368.6 593.5 1367.9 595.4 1367.0 597.2 1366.2 599.0 1365.4 600.8 1364.5 602.6 1363.6 604.4 1362.7 606.2 1361.8 607.9 1360.9 609.7 1359.9 611.4 1358.9 613.1 1357.9 614.8 1356.9 616.6 1356.0 618.4 1355.2 620.2 1354.6 622.1 1354.0 624.0 1353.5 625.8 1352.9 627.6 1352.2 629.2 1351.2 630.8 1350.1 632.2 1348.8 633.7 1347.4 635.1 1346.0 636.5 1344.6 638.0 1343.2 639.4 1341.9 641.0 1340.6 642.5 1339.4 644.1 1338.1 645.6 1336.9 647.0 1335.5 648.3 1334.0 649.6 1332.5 650.8 1330.9 651.9 1329.3 653.1 1327.7 654.2 1326.0 655.3 1324.3 656.3 1322.6 657.4 1320.9 658.4 1319.2 659.3 1317.4 660.3 1315.7 661.2 1313.9 662.2 1312.1 663.1 1310.4 664.0 1308.6 665.0 1306.8 665.9 1305.1 666.8 1303.3 667.7 1301.5 668.6 1299.7 669.5 1297.9 670.4 1296.1 671.2 1294.3 672.1 1292.5 672.9 1290.7 673.8 1288.9 674.6 1287.1 675.4 1285.3 676.3 1283.4 677.1 1281.6 677.9 1279.8 678.7 1277.9 679.4 1276.1 680.1 1274.2 680.9 1272.3 681.6 1270.5 682.3 1268.6 683.0 1266.7 683.7 1264.9 684.5 1263.0 685.2 1261.1 685.9 1259.3 686.6 1257.4 687.3 1255.5 688.0 1253.7 688.7 1251.8 689.4 1249.9 690.1 1248.0 690.7 1246.1 691.4 1244.3 692.1 1242.4 692.7 1240.5 693.4 1238.6 694.1 1236.7 694.7 1234.8 695.4 1232.9 696.0 1231.0 696.7 1229.1 697.3 1227.2 697.9 1225.4 698.6 1223.5 699.2 1221.6 699.8 1219.7 700.5 1217.8 701.1 1215.9 701.7 1214.0 702.4 1212.1 703.0 1210.2 703.6 1208.3 704.3 1206.4 704.9 1204.5 705.5 1202.6 706.2 1200.7 706.8 1198.8 707.4 1196.9 708.0 1195.0 708.6 1193.1 709.2 1191.2 709.7 1189.2 710.2 1187.3 710.7 1185.3 711.1 1183.4 711.5 1181.4 712.0 1179.5 712.4 1177.5 712.8 1175.6 713.2 1173.6 713.7 1171.7 714.1 1169.7 714.6 1167.8 715.1 1165.8 715.5 1163.9 716.0 1161.9 716.5 1160.0 717.0 1158.1 717.5 1156.1 717.9 1154.2 718.4 1152.2 718.9 1150.3 719.4 1148.4 719.8 1146.4 720.3 1144.5 720.8 1142.5 721.2 1140.6 721.7 1138.6 722.1 1136.7 722.6 1134.7 723.1 1132.8 723.5 1130.8 724.0 1128.9 724.4 1126.9 724.9 1125.0 725.4 1123.0 725.8 1121.1 726.3 1119.2 726.7 1117.2 727.2 1115.3 727.6 1113.3 728.1 1111.4 728.6 1109.4 729.0 1107.5 729.5 1105.5 729.9 1103.6 730.4 1101.6 730.9 1099.7 731.3 1097.7 731.8 1095.8 732.2 1093.8 732.7 1091.9 733.2 1089.9 733.6 1088.0 734.1 1086.1 734.5 1084.1 734.9 1082.2 735.3 1080.2 735.7 1078.2 736.1 1076.3 736.4 1074.3 736.7 1072.3 737.0 1070.3 737.4 1068.4 737.7 1066.4 738.0 1064.4 738.3 1062.4 738.7 1060.5 739.0 1058.5 739.4 1056.5 739.8 1054.6 740.2 1052.6 740.6 1050.7 741.0 1048.7 741.4 1046.7 741.8 1044.8 742.2 1042.8 742.6 1040.9 743.0 1038.9 743.4 1036.9 743.8 1035.0 744.2 1033.0 744.6 1031.1 745.1 1029.1 745.5 1027.2 745.9 1025.2 746.3 1023.2 746.7 1021.3 747.1 1019.3 747.5 1017.4 747.9 1015.4 748.3 1013.4 748.7 1011.5 749.1 1009.5 749.5 1007.6 749.9 1005.6 750.3 1003.6 750.7 1001.7 751.1 999.7 751.5 997.8 752.0 995.8 752.4 993.9 752.8 991.9 753.2 989.9 753.6 988.0 754.0 986.0 754.4 984.1 754.8 982.1 755.2 980.1 755.6 978.2 756.0 976.2 756.4 974.3 756.8 972.3 757.2 970.3 757.5 968.4 757.9 966.4 758.2 964.4 758.5 962.5 758.8 960.5 759.1 958.5 759.5 956.5 759.8 954.6 760.1 952.6 760.4 950.6 760.7 948.6 761.0 946.6 761.3 944.7 761.6 942.7 761.8 940.7 762.1 938.7 762.4 936.7 762.7 934.8 763.0 932.8 763.3 930.8 763.7 928.8 764.1 926.9 764.4 924.9 764.8 923.0 765.2 921.0 765.6 919.0 766.0 917.1 766.4 915.1 766.8 913.1 767.2 911.2 767.6 909.2 767.9 907.3 768.3 905.3 768.7 903.3 769.1 901.4 769.5 899.4 769.9 897.5 770.3 895.5 770.7 893.5 771.1 891.6 771.5 889.6 771.9 887.6 772.3 885.7 772.7 883.7 773.0 881.8 773.4 879.8 773.8 877.8 774.2 875.9 774.6 873.9 775.0 871.9 775.3 870.0 775.6 868.0 775.9 866.0 776.2 864.0 776.5 862.1 776.7 860.1 777.0 858.1 777.3 856.1 777.6 854.1 777.8 852.2 778.1 850.2 778.4 848.2 778.8 846.2 779.1 844.3 779.5 842.3 779.8 840.3 780.1 838.3 780.5 836.4 780.8 834.4 781.2 832.4 781.5 830.5 781.9 828.5 782.2 826.5 782.6 824.6 783.0 822.6 783.3 820.6 783.7 818.7 784.1 816.7 784.4 814.7 784.8 812.8 785.2 810.8 785.5 808.8 785.9 806.9 786.3 804.9 786.6 802.9 787.0 801.0 787.4 799.0 787.7 797.0 788.1 795.1 788.5 793.1 788.8 791.1 789.2 789.2 789.5 787.2 789.9 785.2 790.3 783.3 790.6 781.3 791.0 779.3 791.4 777.4 791.7 775.4 792.1 773.4 792.5 771.5 792.8 769.5 793.2 767.5 793.6 765.6 793.9 763.6 794.3 761.6 794.7 759.7 795.1 757.7 795.5 755.8 795.9 753.8 796.4 751.8 796.8 749.9 797.2 747.9 797.6 746.0 798.0 744.0 798.4 742.1 798.7 740.1 799.1 738.1 799.3 736.1 799.6 734.1 799.8 732.2 800.1 730.2 800.3 728.2 800.6 726.2 800.8 724.2 801.1 722.2 801.3 720.3 801.6 718.3 801.9 716.3 802.3 714.3 802.6 712.4 802.9 710.4 803.2 708.4 803.6 706.4 803.9 704.5 804.2 702.5 804.6 700.5 804.9 698.5 805.2 696.6 805.6 694.6 805.9 692.6 806.2 690.7 806.5 688.7 806.9 686.7 807.2 684.7 807.5 682.8 807.9 680.8 808.2 678.8 808.5 676.8 808.9 674.9 809.2 672.9 809.5 670.9 809.9 669.0 810.2 667.0 810.5 665.0 810.8 663.0 811.2 661.1 811.5 659.1 811.8 657.1 812.2 655.1 812.5 653.2 812.8 651.2 813.2 649.2 813.5 647.3 813.8 645.3 814.1 643.3 814.5 641.3 814.8 639.4 815.1 637.4 815.5 635.4 815.8 633.4 816.1 631.5 816.4 629.5 816.8 627.5 817.1 625.5 817.4 623.6 817.8 621.6 818.2 619.6 818.6 617.7 819.0 615.7 819.5 613.8 819.9 611.8 820.4 609.9 820.8 607.9 821.3 606.0 821.7 604.0 822.2 602.1 822.6 600.1 823.1 598.2 823.5 596.2 823.9 594.3 824.3 592.3 824.7 590.4 825.1 588.4 825.5 586.4 825.9 584.5 826.3 582.5 826.8 580.6 827.2 578.6 827.6 576.7 828.0 574.7 828.4 572.7 828.8 570.8 829.2 568.8 829.6 566.9 830.0 564.9 830.4 563.0 830.8 561.0 831.3 559.0 831.7 557.1 832.1 555.1 832.5 553.2 832.9 551.2 833.3 549.2 833.7 547.3 834.1 545.3 834.5 543.4 834.9 541.4 835.3 539.5 835.7 537.5 836.2 535.5 836.6 533.6 837.0 531.6 837.4 529.7 837.8 527.7 838.2 525.7 838.6 523.8 839.0 521.8 839.3 519.9 839.7 517.9 840.0 515.9 840.3 513.9 840.6 512.0 840.9 510.0 841.2 508.0 841.5 506.0 841.8 504.0 842.1 502.1 842.5 500.1 842.8 498.1 843.2 496.2 843.6 494.2 844.0 492.3 844.4 490.3 844.8 488.3 845.2 486.4 845.6 484.4 846.0 482.5 846.5 480.5 846.9 478.6 847.4 476.6 847.9 474.7 848.4 472.7 848.9 470.8 849.4 468.9 849.9 466.9 850.4 465.0 850.9 463.1 851.5 461.1 852.0 459.2 852.5 457.3 853.0 455.3 853.5 453.4 854.0 451.5 854.5 449.5 855.0 447.6 855.5 445.7 856.0 443.7 856.5 441.8 857.0 439.9 857.5 437.9 858.1 436.0 858.6 434.1 859.1 432.1 859.6 430.2 860.1 428.2 860.6 426.3 861.1 424.4 861.6 422.4 862.1 420.5 862.6 418.6 863.1 416.6 863.6 414.7 864.1 412.8 864.7 410.8 865.2 408.9 865.7 407.0 866.2 405.0 866.7 403.1 867.2 401.2 867.8 399.2 868.3 397.3 868.9 395.4 869.5 393.5 870.1 391.6 870.7 389.7 871.2 387.8 871.8 385.8 872.4 383.9 873.0 382.0 873.5 380.1 874.1 378.2 874.7 376.3 875.2 374.3 875.8 372.4 876.4 370.5 876.9 368.6 877.5 366.7 878.0 364.7 878.6 362.8 879.1 360.9 879.6 358.9 880.1 357.0 880.6 355.1 881.1 353.1 881.6 351.2 882.0 349.2 882.5 347.3 883.0 345.4 883.5 343.4 884.0 341.5 884.5 339.5 885.0 337.6 885.5 335.7 886.1 333.8 886.7 331.9 887.2 329.9 887.8 328.0 888.4 326.1 889.0 324.2 889.5 322.3 890.1 320.3 890.7 318.4 891.2 316.5 891.8 314.6 892.4 312.7 892.9 310.8 893.5 308.8 894.1 306.9 894.7 305.0 895.3 303.1 895.9 301.2 896.6 299.4 897.4 297.5 898.3 295.7 899.2 294.0 900.1 292.2 901.1 290.4 902.0 288.7 903.0 286.9 903.9 285.2 904.9 283.4 905.8 281.7 906.8 279.9 907.7 278.1 908.7 276.4 909.6 274.6 910.5 272.8 911.4 271.0 912.3 269.2 913.2 267.5 914.1 265.7 915.0 263.9 915.9 262.1 916.8 260.3 917.7 258.5 918.7 256.8 919.7 255.0 920.7 253.3 921.7 251.6 922.7 249.8 923.7 248.1 924.7 246.4 925.7 244.6 926.7 242.9 927.6 241.2 928.6 239.4 929.6 237.7 930.6 235.9 931.6 234.2 932.6 232.5 933.5 230.7 934.5 229.0 935.5 227.2 936.5 225.5 937.5 223.7 938.5 222.0 939.5 220.3 940.5 218.5 941.4 216.8 942.4 215.1 943.5 213.3 944.5 211.6 945.5 209.9 946.6 208.2 947.7 206.5 948.8 204.9 949.9 203.2 951.0 201.5 952.1 199.9 953.2 198.2 954.3 196.6 955.5 194.9 956.6 193.3 957.8 191.7 959.0 190.0 960.1 188.4 961.3 186.8 962.5 185.2 963.7 183.6 964.9 182.0 966.2 180.5 967.5 179.0 968.8 177.5 970.2 176.0 971.5 174.5 972.9 173.0 974.2 171.6 975.6 170.1 976.9 168.6 978.3 167.1 979.6 165.7 981.0 164.2 982.3 162.7 983.7 161.3 985.1 159.8 986.4 158.3 987.8 156.8 989.1 155.4 990.4 153.9 991.8 152.4 993.1 150.9 994.4 149.4 995.7 147.9 997.0 146.4 998.4 144.9 999.7 143.4 1001.0 141.9 1002.3 140.4 1003.7 138.9 1005.0 137.4 1006.4 135.9 1007.8 134.5 1009.2 133.1 1010.6 131.6 1012.0 130.2 1013.4 128.8 1014.8 127.4 1016.2 126.0 1017.6 124.6 1019.1 123.2 1020.5 121.7 1021.9 120.3 1023.3 119.0 1024.8 117.6 1026.2 116.2 1027.7 114.8 1029.2 113.5 1030.6 112.1 1032.1 110.7 1033.6 109.4 1035.1 108.2 1036.8 107.0 1038.4 106.0 1040.1 105.0 1041.9 104.1 1043.7 103.1 1045.5 102.2 1047.3 101.3 1049.0 100.5 1050.8 99.6 1052.7 98.8 1054.5 98.1 1056.4 97.4 1058.3 96.9 1060.2 96.5 1062.2 96.2 1064.2 95.9 1066.1 95.6 1068.1 95.3 1070.1 95.0 1072.1 94.8 1074.0 94.7 1076.0 94.7 1077.9 94.8 1079.9 95.2 1081.8 95.7 1083.7 96.2 1085.6 96.8 1087.5 97.4 1089.4 98.1 1091.2 98.8 1093.1 99.5 1094.9 100.3 1096.7 101.2 1098.5 102.1 1100.2 103.1 1101.9 104.1 1103.7 105.1 1105.4 106.1 1107.1 107.1 1108.8 108.2 1110.4 109.3 1112.0 110.6 1113.5 111.8 1115.0 113.2 1116.4 114.6 1117.8 116.0 1119.3 117.4 1120.7 118.8 1122.1 120.2 1123.6 121.5 1125.1 122.8 1126.6 124.2 1128.1 125.5 1129.6 126.7 1131.2 128.0 1132.7 129.3 1134.2 130.6 1135.8 131.9 1137.2 133.2 1138.7 134.6 1140.2 136.0 1141.6 137.3 1143.0 138.8 1144.4 140.2 1145.8 141.6 1147.1 143.1 1148.4 144.6 1149.7 146.2 1150.9 147.8 1152.1 149.4 1153.2 151.0 1154.4 152.6 1155.5 154.3 1156.7 155.9 1157.8 157.6 1159.0 159.2 1160.0 160.9 1161.1 162.6 1162.1 164.3 1163.1 166.0 1164.1 167.8 1165.1 169.5 1166.0 171.3 1167.0 173.0 1168.0 174.8 1169.0 176.5 1169.9 178.2 1171.0 180.0 1172.0 181.7 1173.1 183.3 1174.3 184.9 1175.5 186.5 1176.8 188.0 1178.1 189.6 1179.3 191.1 1180.6 192.7 1181.9 194.2 1183.1 195.8 1184.3 197.4 1185.5 199.0 1186.6 200.7 1187.7 202.4 1188.7 204.0 1189.8 205.7 1190.9 207.4 1191.9 209.1 1193.0 210.8 1194.0 212.5 1195.1 214.2 1196.1 215.9 1197.2 217.6 1198.2 219.4 1199.2 221.1 1200.1 222.9 1201.1 224.6 1202.1 226.4 1203.0 228.1 1204.0 229.9 1205.0 231.6 1206.0 233.3 1206.9 235.1 1207.9 236.8 1208.9 238.5 1210.0 240.3 1211.0 242.0 1212.1 243.6 1213.2 245.3 1214.3 247.0 1215.4 248.7 1216.5 250.3 1217.6 252.0 1218.7 253.7 1219.8 255.4 1220.8 257.1 1221.9 258.8 1222.9 260.5 1223.8 262.2 1224.8 264.0 1225.7 265.8 1226.6 267.6 1227.5 269.4 1228.4 271.1 1229.3 272.9 1230.2 274.7 1231.1 276.5 1232.0 278.3 1233.0 280.0 1233.9 281.8 1234.9 283.5 1235.9 285.3 1236.9 287.0 1237.9 288.7 1239.0 290.4 1240.0 292.1 1241.0 293.9 1242.0 295.6 1243.1 297.3 1244.1 299.0 1245.2 300.7 1246.2 302.4 1247.3 304.1 1248.4 305.8 1249.4 307.5 1250.5 309.2 1251.5 310.9 1252.5 312.6 1253.5 314.3 1254.5 316.1 1255.5 317.8 1256.5 319.6 1257.4 321.3 1258.4 323.1 1259.4 324.8 1260.3 326.6 1261.3 328.3 1262.3 330.1 1263.3 331.8 1264.3 333.5 1265.2 335.3 1266.2 337.0 1267.2 338.8 1268.2 340.5 1269.2 342.2 1270.2 344.0 1271.2 345.7 1272.3 347.4 1273.3 349.1 1274.4 350.8 1275.4 352.5 1276.5 354.2 1277.5 355.9 1278.6 357.6 1279.6 359.3 1280.7 361.0 1281.8 362.7 1282.8 364.4 1283.9 366.1 1284.9 367.8 1286.0 369.5 1287.1 371.2 1288.1 372.9 1289.2 374.6 1290.3 376.3 1291.3 377.9 1292.4 379.6 1293.5 381.3 1294.6 383.0 1295.7 384.6 1296.8 386.3 1298.0 387.9 1299.1 389.6 1300.3 391.2 1301.4 392.8 1302.6 394.5 1303.8 396.1 1304.9 397.7 1306.1 399.3 1307.3 401.0 1308.4 402.6 1309.6 404.2 1310.7 405.9 1311.9 407.5 1313.1 409.1 1314.2 410.7 1315.4 412.4 1316.6 414.0 1317.7 415.6 1318.9 417.2 1320.0 418.9 1321.2 420.5 1322.4 422.1 1323.5 423.8 1324.7 425.4 1325.9 427.0 1327.0 428.6 1328.2 430.3 1329.3 431.9 1330.5 433.5 1331.6 435.2 1332.7 436.9 1333.8 438.6 1334.9 440.2 1335.9 441.9 1337.0 443.6 1338.0 445.3 1339.1 447.0 1340.2 448.7 1341.2 450.4 1342.3 452.1 1343.3 453.8 1344.3 455.5 1345.3 457.3 1346.3 459.0 1347.3 460.8 1348.2 462.5 1349.2 464.3 1350.2 466.0 1351.1 467.8 1352.1 469.5 1353.0 471.3 1354.0 473.0 1355.0 474.8 1355.9 476.5 1356.9 478.3 1357.9 480.0 1358.8 481.8 1359.8 483.5 1360.8 485.3 1361.8 487.0 1362.7 488.8 1363.7 490.5 1364.7 492.3 1365.6 494.1 1366.5 495.8 1367.4 497.6 1368.3 499.4 1369.1 501.2 1370.0 503.0 1370.8 504.9 1371.6 506.7 1372.5 508.5 1373.3 510.3 1374.1 512.1 1375.0 514.0 1375.8 515.8 1376.6 517.6 1377.4 519.4 1378.3 521.2 1379.1 523.1 1379.9 524.9 1380.8 526.7 1381.6 528.5 1382.4 530.4 1383.2 532.2 1384.1 534.0 1384.9 535.8 1385.7 537.6 1386.5 539.5 1387.4 541.3 1388.2 543.1 1389.0 544.9 1389.8 546.8 1390.7 548.6 1391.5 550.4 1392.3 552.2 1393.2 554.0 1394.0 555.9 1394.8 557.7 1395.6 559.5 1396.5 561.3 1397.3 563.1 1398.1 565.0 1399.0 566.8 1399.8 568.6 1400.6 570.4 1401.4 572.2 1402.3 574.1 1403.1 575.9 1403.9 577.7 1404.8 579.5 1405.6 581.3 1406.4 583.2 1407.2 585.0 1408.1 586.8 1408.9 588.6 1409.7 590.5 1410.5 592.3 1411.4 594.1 1412.2 595.9 1413.0 597.7 1413.9 599.6 1414.7 601.4 1415.6 603.2 1416.5 605.0 1417.4 606.7 1418.4 608.5 1419.3 610.2 1420.3 612.0 1421.3 613.7 1422.2 615.5 1423.2 617.2 1424.2 619.0 1425.1 620.7 1426.1 622.5 1427.1 624.2 1428.2 625.9 1429.2 627.6 1430.3 629.3 1431.4 631.0 1432.5 632.6 1433.6 634.3 1434.7 636.0 1435.8 637.6 1436.9 639.3 1438.0 641.0 1439.1 642.6 1440.3 644.3 1441.4 645.9 1442.5 647.6 1443.6 649.3 1444.8 650.9 1445.9 652.5 1447.0 654.2 1448.2 655.8 1449.3 657.5 1450.5 659.1 1451.6 660.7 1452.8 662.4 1453.9 664.0 1455.1 665.7 1456.2 667.3 1457.3 669.0 1458.5 670.6 1459.6 672.3 1460.6 674.0 1461.7 675.6 1462.8 677.4 1463.8 679.1 1464.8 680.8 1465.9 682.5 1466.9 684.2 1467.9 685.9 1468.9 687.6 1470.0 689.4 1471.0 691.1 1472.0 692.8 1473.0 694.5 1474.1 696.2 1475.1 698.0 1476.1 699.7 1477.0 701.4 1478.0 703.2 1479.0 704.9 1480.0 706.7 1480.9 708.4 1481.9 710.2 1482.9 711.9 1483.9 713.7 1484.8 715.4 1485.8 717.1 1486.9 718.9 1487.9 720.6 1489.0 722.2 1490.1 723.9 1491.2 725.6 1492.3 727.3 1493.4 728.9 1494.5 730.6 1495.6 732.2 1496.7 733.9 1497.8 735.6 1499.0 737.2 1500.1 738.9 1501.2 740.5 1502.4 742.2 1503.5 743.8 1504.7 745.4 1505.9 747.0 1507.1 748.6 1508.3 750.2 1509.5 751.8 1510.7 753.4 1511.9 755.0 1513.1 756.6 1514.3 758.2 1515.5 759.8 1516.7 761.4 1517.9 763.0 1519.1 764.6 1520.3 766.2 1521.5 767.8 1522.7 769.4 1523.9 771.0 1525.1 772.6 1526.3 774.2 1527.5 775.8 1528.7 777.4 1529.9 779.0 1531.1 780.7 1532.2 782.3 1533.3 783.9 1534.5 785.6 1535.6 787.3 1536.7 788.9 1537.8 790.6 1538.9 792.3 1540.0 793.9 1541.1 795.6 1542.2 797.2 1543.4 798.9 1544.5 800.5 1545.8 802.1 1547.1 803.6 1548.4 805.0 1549.8 806.4 1551.3 807.8 1552.7 809.2 1554.2 810.6 1555.6 811.9 1557.0 813.3 1558.4 814.8 1559.7 816.3 1561.0 817.8 1562.1 819.4 1563.2 821.1 1564.3 822.8 1565.4 824.4 1566.5 826.1 1567.6 827.8 1568.7 829.5 1569.8 831.2 1570.9 832.8 1571.9 834.5 1573.0 836.2 1574.1 837.9 1575.1 839.6 1576.1 841.3 1577.1 843.1 1578.1 844.8 1579.1 846.5 1580.1 848.3 1581.1 850.0 1582.1 851.7 1583.2 853.4 1584.2 855.1 1585.3 856.8 1586.5 858.4 1587.6 860.0 1588.8 861.7 1590.0 863.3 1591.2 864.9 1592.4 866.5 1593.6 868.1 1594.8 869.7 1596.1 871.2 1597.3 872.8 1598.6 874.2 1600.0 875.6 1601.5 876.9 1603.1 878.2 1604.7 879.4 1606.3 880.6 1607.9 881.8 1609.5 882.9 1611.1 884.1 1612.7 885.3 1614.3 886.6 1615.7 887.9 1617.1 889.3 1618.5 890.8 1619.7 892.3 1621.0 893.8 1622.2 895.4 1623.5 897.0 1624.7 898.6 1625.9 900.1 1627.2 901.7 1628.4 903.3 1629.6 904.9 1630.9 906.4 1632.1 908.0 1633.4 909.5 1634.7 911.1 1636.0 912.6 1637.3 914.1 1638.6 915.6 1640.0 917.1 1641.3 918.6 1642.6 920.1 1643.9 921.6 1645.3 923.1 1646.6 924.6 1647.9 926.1 1649.2 927.6 1650.6 929.1 1651.9 930.5 1653.2 932.1 1654.5 933.6 1655.9 935.1 1657.2 936.6 1658.5 938.1 1659.8 939.6 1661.1 941.1 1662.4 942.6 1663.7 944.1 1665.1 945.6 1666.4 947.1 1667.7 948.6 1669.0 950.1 1670.3 951.6 1671.6 953.1 1673.0 954.6 1674.3 956.1 1675.6 957.7 1676.9 959.2 1678.2 960.7 1679.6 962.2 1680.9 963.7 1682.2 965.2 1683.5 966.7 1684.9 968.1 1686.2 969.6 1687.6 971.0 1689.1 972.4 1690.5 973.8 1692.0 975.1 1693.5 976.4 1695.0 977.7 1696.5 979.1 1698.0 980.4 1699.5 981.7 1701.1 983.0 1702.6 984.3 1704.1 985.6 1705.7 986.8 1707.2 988.0 1708.9 989.2 1710.5 990.3 1712.2 991.3 1713.9 992.4 1715.7 993.4 1717.4 994.5 1719.1 995.5 1720.8 996.5 1722.5 997.6 1724.2 998.6 1725.9 999.7 1727.6 1000.7 1729.2 1001.9 1730.8 1003.1 1732.3 1004.4 1733.7 1005.7 1735.0 1007.2 1736.4 1008.7 1737.7 1010.2 1739.0 1011.7 1740.3 1013.2 1741.6 1014.7 1742.9 1016.2 1744.3 1017.7 1745.7 1019.1 1747.1 1020.5 1748.6 1021.8 1750.1 1023.1 1751.7 1024.3 1753.3 1025.6 1754.8 1026.8 1756.4 1028.0 1758.0 1029.3 1759.6 1030.5 1761.2 1031.7 1762.7 1033.0 1764.3 1034.2 1765.9 1035.4 1767.5 1036.6 1769.0 1037.9 1770.6 1039.1 1772.2 1040.4 1773.7 1041.6 1775.3 1042.9 1776.9 1044.1 1778.4 1045.4 1780.0 1046.6 1781.5 1047.9 1783.1 1049.1 1784.7 1050.4 1786.2 1051.6 1787.8 1052.9 1789.3 1054.1 1790.9 1055.4 1792.4 1056.7 1793.8 1058.1 1795.3 1059.5 1796.7 1060.8 1798.1 1062.3 1799.6 1063.7 1801.0 1065.1 1802.4 1066.5 1803.8 1067.9 1805.2 1069.3 1806.6 1070.7 1808.1 1072.1 1809.5 1073.5 1811.0 1074.9 1812.5 1076.2 1814.0 1077.5 1815.6 1078.7 1817.2 1079.9 1818.8 1081.0 1820.4 1082.2 1822.1 1083.4 1823.7 1084.5 1825.3 1085.7 1826.9 1086.9 1828.5 1088.1 1830.1 1089.3 1831.7 1090.5 1833.3 1091.7 1834.9 1092.9 1836.5 1094.1 1838.1 1095.4 1839.7 1096.6 1841.2 1097.8 1842.8 1099.0 1844.4 1100.3 1846.0 1101.5 1847.5 1102.7 1849.1 1104.0 1850.6 1105.3 1852.1 1106.6 1853.6 1108.0 1855.0 1109.4 1856.4 1110.8 1857.9 1112.2 1859.3 1113.6 1860.7 1115.0 1862.1 1116.4 1863.6 1117.8 1865.0 1119.1 1866.5 1120.5 1868.0 1121.8 1869.6 1123.0 1871.2 1124.2 1872.7 1125.5 1874.3 1126.7 1875.9 1127.9 1877.5 1129.1 1879.1 1130.3 1880.7 1131.5 1882.4 1132.6 1884.0 1133.8 1885.6 1135.0 1887.2 1136.1 1888.9 1137.3 1890.5 1138.4 1892.2 1139.6 1893.8 1140.7 1895.5 1141.7 1897.3 1142.6 1899.1 1143.4 1900.9 1144.2 1902.8 1144.9 1904.7 1145.5 1906.5 1146.2 1908.4 1146.9 1910.2 1147.7 1912.0 1148.6 1913.8 1149.5 1915.6 1150.4 1917.3 1151.4 1919.0 1152.4 1920.8 1153.4 1922.5 1154.4 1924.3 1155.3 1926.0 1156.3 1927.8 1157.2 1929.6 1158.1 1931.3 1159.1 1933.1 1159.9 1934.9 1160.8 1936.7 1161.7 1938.5 1162.6 1940.3 1163.5 1942.1 1164.4 1943.9 1165.3 1945.7 1166.2 1947.4 1167.2 1949.2 1168.1 1950.9 1169.2 1952.6 1170.2 1954.2 1171.3 1955.9 1172.4 1957.6 1173.5 1959.2 1174.6 1960.9 1175.7 1962.6 1176.8 1964.3 1177.8 1966.0 1178.9 1967.7 1179.9 1969.5 1180.9 1971.2 1181.9 1973.0 1182.8 1974.7 1183.8 1976.4 1184.8 1978.2 1185.8 1979.9 1186.8 1981.6 1187.8 1983.4 1188.8 1985.1 1189.8 1986.9 1190.8 1988.6 1191.8 1990.3 1192.8 1992.1 1193.7 1993.8 1194.7 1995.6 1195.7 1997.4 1196.6 1999.1 1197.5 2000.9 1198.4 2002.7 1199.3 2004.5 1200.1 2006.3 1200.9 2008.2 1201.5 2010.1 1202.0 2012.0 1202.2 2014.0 1202.3 2015.9 1202.3 2017.9 1202.1 2019.8 1201.7 2021.8 1201.3 2023.7 1200.8 2025.6 1200.3 2027.5 1199.9 2029.5 1199.5 2031.5 1199.4 2033.4 1199.3 2035.4 1199.3 2037.4 1199.3 2039.4 1199.4 2041.4 1199.5 2043.4 1199.6 2045.4 1199.6 2047.4 1199.7 2049.4 1199.8 2051.4 1199.9 2053.4 1200.0 2055.4 1200.0 2057.4 1200.1 2059.4 1200.2" stroke="#007f00"/>
<path d="M386.0 1380.5L388.0 1380.5 390.0 1380.4 392.0 1380.4 394.0 1380.4 396.0 1380.4 398.0 1380.5 400.0 1380.6 402.0 1380.9 403.9 1381.2 405.9 1381.5 407.9 1381.9 409.8 1382.3 411.8 1382.7 413.7 1383.0 415.7 1383.3 417.7 1383.5 419.7 1383.6 421.7 1383.7 423.7 1383.7 425.7 1383.7 427.6 1383.5 429.6 1383.3 431.6 1382.9 433.5 1382.5 435.5 1382.1 437.4 1381.7 439.3 1381.1 441.2 1380.5 443.0 1379.8 444.8 1378.9 446.5 1377.9 448.0 1376.8 449.5 1375.5 450.8 1374.0 452.1 1372.5 453.3 1371.0 454.6 1369.4 455.8 1367.8 457.1 1366.3 458.4 1364.8 459.7 1363.3 461.1 1361.8 462.5 1360.4 463.8 1358.9 465.1 1357.4 466.4 1355.9 467.7 1354.4 469.0 1352.8 470.3 1351.3 471.6 1349.8 472.9 1348.3 474.2 1346.7 475.6 1345.3 476.9 1343.8 478.3 1342.4 479.8 1341.0 481.3 1339.7 482.8 1338.4 484.3 1337.1 485.8 1335.8 487.3 1334.5 488.8 1333.1 490.2 1331.7 491.6 1330.3 493.0 1328.9 494.4 1327.4 495.8 1326.0 497.1 1324.5 498.5 1323.0 499.8 1321.5 501.0 1319.9 502.3 1318.4 503.5 1316.8 504.8 1315.3 506.1 1313.8 507.5 1312.3 508.9 1311.0 510.5 1309.8 512.1 1308.8 513.9 1307.9 515.7 1307.2 517.5 1306.8 519.4 1306.6 521.3 1306.7 523.3 1306.9 525.2 1307.4 527.1 1308.0 529.0 1308.6 530.8 1309.3 532.7 1310.0 534.5 1310.8 536.4 1311.6 538.2 1312.4 540.0 1313.3 541.8 1314.2 543.5 1315.1 545.3 1316.0 547.0 1317.1 548.7 1318.1 550.4 1319.2 552.0 1320.4 553.6 1321.6 555.1 1322.9 556.6 1324.2 558.1 1325.5 559.6 1326.8 561.2 1328.0 562.8 1329.2 564.5 1330.2 566.2 1331.2 568.0 1332.0 569.8 1332.6 571.6 1333.0 573.5 1333.1 575.4 1333.0 577.4 1332.7 579.3 1332.4 581.3 1332.0 583.2 1331.6 585.2 1331.2 587.1 1330.7 589.0 1330.1 590.9 1329.5 592.7 1328.7 594.5 1327.8 596.2 1326.8 597.8 1325.7 599.3 1324.5 600.7 1323.1 602.0 1321.6 603.1 1320.0 604.1 1318.3 605.0 1316.6 605.8 1314.7 606.6 1312.9 607.4 1311.1 608.1 1309.2 608.9 1307.4 609.6 1305.5 610.4 1303.7 611.1 1301.8 611.9 1299.9 612.6 1298.1 613.3 1296.2 614.0 1294.3 614.8 1292.5 615.5 1290.6 616.2 1288.7 616.9 1286.9 617.6 1285.0 618.3 1283.1 619.0 1281.2 619.7 1279.4 620.4 1277.5 621.1 1275.6 621.7 1273.7 622.4 1271.8 623.0 1269.9 623.5 1268.0 624.1 1266.1 624.6 1264.1 625.1 1262.2 625.6 1260.3 626.1 1258.3 626.6 1256.4 627.1 1254.5 627.6 1252.5 628.2 1250.6 628.7 1248.7 629.2 1246.7 629.7 1244.8 630.2 1242.9 630.7 1240.9 631.2 1239.0 631.7 1237.1 632.2 1235.1 632.8 1233.2 633.3 1231.3 633.8 1229.3 634.3 1227.4 634.9 1225.5 635.4 1223.5 635.9 1221.6 636.5 1219.7 637.0 1217.8 637.6 1215.8 638.1 1213.9 638.6 1212.0 639.2 1210.0 639.7 1208.1 640.3 1206.2 640.8 1204.3 641.3 1202.3 641.9 1200.4 642.4 1198.5 643.0 1196.6 643.5 1194.6 644.0 1192.7 644.5 1190.7 644.9 1188.8 645.3 1186.8 645.7 1184.9 646.0 1182.9 646.4 1180.9 646.7 1179.0 647.1 1177.0 647.4 1175.0 647.8 1173.1 648.1 1171.1 648.5 1169.1 648.8 1167.1 649.1 1165.2 649.5 1163.2 649.8 1161.2 650.2 1159.3 650.5 1157.3 650.9 1155.3 651.2 1153.3 651.6 1151.4 652.0 1149.4 652.4 1147.5 652.8 1145.5 653.2 1143.5 653.7 1141.6 654.1 1139.6 654.5 1137.7 654.9 1135.7 655.4 1133.8 655.8 1131.8 656.2 1129.9 656.7 1127.9 657.1 1126.0 657.5 1124.0 657.9 1122.0 658.4 1120.1 658.8 1118.1 659.2 1116.2 659.7 1114.2 660.1 1112.3 660.5 1110.3 660.9 1108.4 661.3 1106.4 661.7 1104.4 662.1 1102.5 662.6 1100.5 663.0 1098.6 663.4 1096.6 663.8 1094.7 664.2 1092.7 664.6 1090.7 665.0 1088.8 665.5 1086.8 665.9 1084.9 666.2 1082.9 666.6 1080.9 666.9 1079.0 667.3 1077.0 667.5 1075.0 667.8 1073.0 668.1 1071.0 668.3 1069.1 668.6 1067.1 668.8 1065.1 669.1 1063.1 669.4 1061.1 669.6 1059.1 669.9 1057.1 670.1 1055.2 670.4 1053.2 670.6 1051.2 670.9 1049.2 671.2 1047.2 671.4 1045.2 671.7 1043.3 672.0 1041.3 672.3 1039.3 672.5 1037.3 672.9 1035.3 673.2 1033.4 673.5 1031.4 673.8 1029.4 674.1 1027.4 674.4 1025.5 674.7 1023.5 675.1 1021.5 675.4 1019.5 675.7 1017.6 676.0 1015.6 676.3 1013.6 676.6 1011.6 677.0 1009.7 677.3 1007.7 677.6 1005.7 677.9 1003.7 678.2 1001.7 678.5 999.8 678.9 997.8 679.2 995.8 679.5 993.8 679.8 991.9 680.2 989.9 680.5 987.9 680.8 985.9 681.1 984.0 681.4 982.0 681.8 980.0 682.1 978.0 682.4 976.1 682.7 974.1 683.0 972.1 683.3 970.1 683.5 968.1 683.7 966.2 683.9 964.2 684.1 962.2 684.2 960.2 684.4 958.2 684.6 956.2 684.8 954.2 684.9 952.2 685.1 950.2 685.3 948.2 685.6 946.2 685.8 944.3 686.0 942.3 686.3 940.3 686.5 938.3 686.7 936.3 687.0 934.3 687.2 932.3 687.5 930.3 687.7 928.4 687.9 926.4 688.2 924.4 688.4 922.4 688.7 920.4 688.9 918.4 689.2 916.4 689.4 914.5 689.6 912.5 689.9 910.5 690.1 908.5 690.4 906.5 690.6 904.5 690.8 902.5 691.1 900.5 691.3 898.6 691.6 896.6 691.8 894.6 692.1 892.6 692.3 890.6 692.5 888.6 692.8 886.6 693.0 884.7 693.3 882.7 693.5 880.7 693.7 878.7 694.0 876.7 694.2 874.7 694.4 872.7 694.7 870.7 694.9 868.8 695.1 866.8 695.3 864.8 695.4 862.8 695.6 860.8 695.8 858.8 696.0 856.8 696.2 854.8 696.3 852.8 696.5 850.8 696.7 848.8 696.9 846.8 697.0 844.8 697.2 842.8 697.4 840.9 697.5 838.9 697.7 836.9 697.9 834.9 698.1 832.9 698.3 830.9 698.5 828.9 698.8 826.9 699.0 824.9 699.3 823.0 699.6 821.0 699.8 819.0 700.1 817.0 700.4 815.0 700.7 813.0 700.9 811.1 701.2 809.1 701.5 807.1 701.7 805.1 702.0 803.1 702.3 801.1 702.6 799.2 702.8 797.2 703.1 795.2 703.4 793.2 703.7 791.2 703.9 789.3 704.2 787.3 704.5 785.3 704.8 783.3 705.0 781.3 705.3 779.3 705.6 777.4 705.9 775.4 706.1 773.4 706.4 771.4 706.7 769.4 707.0 767.5 707.2 765.5 707.5 763.5 707.8 761.5 708.0 759.5 708.3 757.5 708.5 755.5 708.7 753.6 709.0 751.6 709.2 749.6 709.4 747.6 709.7 745.6 709.9 743.6 710.1 741.6 710.3 739.6 710.5 737.6 710.7 735.7 710.9 733.7 711.1 731.7 711.3 729.7 711.5 727.7 711.7 725.7 711.9 723.7 712.1 721.7 712.3 719.7 712.6 717.7 712.8 715.8 713.0 713.8 713.2 711.8 713.4 709.8 713.6 707.8 713.8 705.8 714.1 703.8 714.3 701.8 714.5 699.8 714.7 697.8 714.9 695.9 715.1 693.9 715.4 691.9 715.6 689.9 715.8 687.9 716.0 685.9 716.2 683.9 716.4 681.9 716.7 679.9 716.9 678.0 717.1 676.0 717.3 674.0 717.5 672.0 717.7 670.0 718.0 668.0 718.2 666.0 718.4 664.0 718.6 662.0 718.8 660.1 719.0 658.1 719.3 656.1 719.5 654.1 719.7 652.1 719.9 650.1 720.1 648.1 720.3 646.1 720.5 644.1 720.8 642.1 721.0 640.2 721.2 638.2 721.4 636.2 721.6 634.2 721.8 632.2 722.0 630.2 722.2 628.2 722.4 626.2 722.6 624.2 722.8 622.2 723.0 620.3 723.3 618.3 723.5 616.3 723.8 614.3 724.0 612.3 724.3 610.3 724.6 608.3 724.8 606.4 725.1 604.4 725.4 602.4 725.6 600.4 725.9 598.4 726.1 596.4 726.4 594.5 726.6 592.5 726.8 590.5 727.1 588.5 727.3 586.5 727.6 584.5 727.8 582.5 728.0 580.5 728.3 578.6 728.5 576.6 728.7 574.6 729.0 572.6 729.2 570.6 729.5 568.6 729.7 566.6 729.9 564.7 730.2 562.7 730.4 560.7 730.7 558.7 730.9 556.7 731.1 554.7 731.4 552.7 731.6 550.7 731.8 548.8 732.1 546.8 732.3 544.8 732.6 542.8 732.8 540.8 733.0 538.8 733.3 536.8 733.5 534.9 733.8 532.9 734.0 530.9 734.2 528.9 734.5 526.9 734.7 524.9 734.9 522.9 735.2 520.9 735.4 519.0 735.6 517.0 735.9 515.0 736.1 513.0 736.3 511.0 736.6 509.0 736.8 507.0 737.0 505.0 737.2 503.1 737.5 501.1 737.7 499.1 737.9 497.1 738.1 495.1 738.3 493.1 738.5 491.1 738.7 489.1 738.9 487.1 739.1 485.1 739.3 483.1 739.5 481.2 739.8 479.2 740.0 477.2 740.3 475.2 740.6 473.2 740.8 471.2 741.1 469.3 741.4 467.3 741.7 465.3 742.0 463.3 742.3 461.3 742.5 459.4 742.8 457.4 743.1 455.4 743.4 453.4 743.7 451.4 744.0 449.5 744.2 447.5 744.5 445.5 744.8 443.5 745.1 441.5 745.4 439.5 745.6 437.6 745.9 435.6 746.2 433.6 746.5 431.6 746.8 429.6 747.1 427.7 747.3 425.7 747.6 423.7 747.9 421.7 748.2 419.7 748.5 417.8 748.8 415.8 749.0 413.8 749.3 411.8 749.6 409.8 749.9 407.9 750.2 405.9 750.4 403.9 750.7 401.9 751.0 399.9 751.3 398.0 751.6 396.0 751.9 394.0 752.2 392.0 752.5 390.0 752.8 388.1 753.1 386.1 753.4 384.1 753.7 382.1 754.0 380.1 754.2 378.2 754.4 376.2 754.5 374.2 754.7 372.2 754.8 370.2 755.0 368.2 755.1 366.2 755.3 364.2 755.5 362.2 755.7 360.2 756.0 358.2 756.2 356.2 756.5 354.3 756.8 352.3 757.1 350.3 757.5 348.3 757.8 346.4 758.1 344.4 758.4 342.4 758.7 340.4 759.0 338.5 759.4 336.5 759.7 334.5 760.0 332.5 760.3 330.6 760.6 328.6 760.9 326.6 761.3 324.6 761.6 322.7 761.9 320.7 762.2 318.7 762.5 316.7 762.8 314.7 763.1 312.8 763.4 310.8 763.7 308.8 763.9 306.8 764.2 304.8 764.5 302.9 764.8 300.9 765.1 298.9 765.4 296.9 765.7 294.9 766.0 293.0 766.3 291.0 766.6 289.0 766.9 287.0 767.2 285.0 767.4 283.1 767.7 281.1 768.0 279.1 768.3 277.1 768.6 275.1 768.9 273.2 769.2 271.2 769.5 269.2 769.8 267.2 770.1 265.3 770.4 263.3 770.7 261.3 771.0 259.3 771.3 257.3 771.6 255.4 771.9 253.4 772.2 251.4 772.5 249.4 772.8 247.4 773.1 245.5 773.4 243.5 773.7 241.5 774.1 239.5 774.4 237.6 774.8 235.6 775.2 233.6 775.5 231.7 775.9 229.7 776.3 227.8 776.7 225.8 777.1 223.8 777.5 221.9 777.9 219.9 778.2 217.9 778.6 216.0 779.0 214.0 779.4 212.0 779.8 210.1 780.2 208.1 780.6 206.2 781.0 204.2 781.4 202.2 781.8 200.3 782.2 198.3 782.7 196.4 783.1 194.4 783.5 192.5 784.0 190.5 784.4 188.6 784.9 186.6 785.4 184.7 785.8 182.7 786.3 180.8 786.8 178.8 787.3 176.9 787.8 175.0 788.3 173.0 788.8 171.1 789.3 169.2 789.9 167.3 790.5 165.3 791.1 163.4 791.7 161.5 792.3 159.6 792.9 157.7 793.5 155.8 794.1 153.9 794.8 152.0 795.4 150.1 796.2 148.3 797.0 146.5 797.9 144.8 799.0 143.1 800.2 141.6 801.6 140.1 803.0 138.9 804.6 137.7 806.3 136.8 808.1 136.0 809.9 135.4 811.8 135.1 813.7 135.0 815.6 135.1 817.5 135.5 819.5 135.9 821.4 136.5 823.2 137.2 825.1 137.9 826.8 138.8 828.6 139.8 830.2 140.9 831.8 142.1 833.3 143.4 834.7 144.8 836.0 146.3 837.2 147.8 838.3 149.5 839.3 151.2 840.3 152.9 841.1 154.7 841.9 156.5 842.7 158.4 843.4 160.2 844.2 162.1 844.9 164.0 845.7 165.8 846.5 167.6 847.3 169.5 848.2 171.3 849.1 173.0 850.0 174.8 851.1 176.5 852.1 178.2 853.2 179.9 854.3 181.5 855.4 183.2 856.4 184.9 857.4 186.6 858.2 188.4 859.0 190.2 859.6 192.0 860.3 193.8 861.2 195.4 862.3 196.9 863.6 198.2 865.1 199.4 866.7 200.4 868.5 201.4 870.2 202.3 872.0 203.2 873.8 203.9 875.7 204.5 877.5 204.8 879.3 204.9 881.0 204.6 882.8 203.9 884.4 203.1 886.1 202.0 887.8 201.0 889.5 200.0 891.3 199.1 893.1 198.3 894.9 197.5 896.8 196.8 898.6 196.1 900.5 195.3 902.4 194.6 904.2 193.8 906.0 193.0 907.7 192.1 909.4 191.0 911.0 189.9 912.4 188.5 913.8 187.1 915.2 185.7 916.6 184.2 917.9 182.8 919.3 181.3 920.7 179.9 922.1 178.5 923.6 177.1 925.0 175.7 926.5 174.4 928.0 173.0 929.4 171.7 930.9 170.3 932.4 169.0 933.9 167.7 935.4 166.4 936.9 165.1 938.5 163.8 940.0 162.5 941.5 161.2 943.1 159.9 944.6 158.7 946.2 157.4 947.7 156.2 949.3 154.9 950.9 153.7 952.5 152.6 954.2 151.5 955.9 150.4 957.6 149.5 959.4 148.7 961.2 148.1 963.1 147.7 964.9 147.7 966.7 148.0 968.5 148.5 970.3 149.3 972.1 150.1 973.8 151.1 975.5 152.1 977.2 153.2 978.8 154.4 980.4 155.6 982.0 156.8 983.5 158.1 985.0 159.4 986.4 160.8 987.8 162.2 989.1 163.7 990.4 165.2 991.6 166.8 992.8 168.4 993.9 170.1 995.0 171.8 996.0 173.5 996.9 175.2 997.8 177.0 998.7 178.8 999.6 180.6 1000.5 182.4 1001.4 184.2 1002.3 186.0 1003.2 187.7 1004.1 189.5 1005.0 191.3 1005.9 193.1 1006.8 194.9 1007.7 196.7 1008.6 198.5 1009.5 200.3 1010.4 202.0 1011.4 203.8 1012.3 205.6 1013.3 207.3 1014.3 209.1 1015.2 210.8 1016.2 212.6 1017.2 214.3 1018.2 216.0 1019.1 217.8 1020.1 219.6 1021.0 221.4 1021.8 223.2 1022.7 225.0 1023.5 226.8 1024.4 228.6 1025.2 230.4 1026.1 232.2 1026.9 234.0 1027.7 235.9 1028.6 237.7 1029.4 239.5 1030.2 241.3 1031.0 243.1 1031.9 245.0 1032.7 246.8 1033.5 248.6 1034.3 250.5 1035.1 252.3 1035.9 254.1 1036.7 255.9 1037.5 257.8 1038.3 259.6 1039.0 261.5 1039.8 263.3 1040.6 265.2 1041.3 267.0 1042.1 268.9 1042.8 270.7 1043.6 272.6 1044.3 274.5 1045.1 276.3 1045.8 278.2 1046.6 280.0 1047.3 281.9 1048.1 283.7 1048.9 285.5 1049.8 287.3 1050.8 289.0 1051.8 290.7 1052.9 292.4 1054.0 294.0 1055.0 295.7 1056.0 297.5 1056.9 299.2 1057.8 301.0 1058.7 302.8 1059.5 304.6 1060.5 306.4 1061.4 308.1 1062.5 309.8 1063.7 311.4 1064.9 312.9 1066.2 314.4 1067.6 315.9 1069.0 317.3 1070.4 318.7 1071.9 320.0 1073.4 321.3 1075.0 322.6 1076.5 323.9 1078.0 325.2 1079.5 326.5 1080.9 327.9 1082.3 329.4 1083.7 330.8 1085.0 332.3 1086.4 333.7 1087.8 335.2 1089.2 336.5 1090.7 337.9 1092.3 339.1 1093.9 340.3 1095.5 341.4 1097.2 342.4 1099.0 343.3 1100.8 344.0 1102.7 344.7 1104.6 345.4 1106.5 345.9 1108.4 346.4 1110.4 346.8 1112.3 347.1 1114.3 347.4 1116.3 347.7 1118.2 348.0 1120.1 348.4 1122.0 348.9 1123.9 349.6 1125.7 350.3 1127.6 351.0 1129.5 351.7 1131.3 352.4 1133.2 352.9 1135.2 353.5 1137.1 354.1 1139.0 354.7 1140.8 355.4 1142.7 356.2 1144.5 357.0 1146.3 357.8 1148.1 358.7 1149.9 359.7 1151.6 360.6 1153.4 361.6 1155.1 362.5 1156.9 363.4 1158.7 364.1 1160.6 364.7 1162.5 365.1 1164.4 365.5 1166.4 365.7 1168.4 366.0 1170.4 366.2 1172.4 366.5 1174.4 366.7 1176.3 367.0 1178.3 367.2 1180.3 367.4 1182.3 367.7 1184.3 367.9 1186.3 368.2 1188.3 368.4 1190.2 368.7 1192.2 368.9 1194.2 369.2 1196.2 369.4 1198.2 369.5 1200.2 369.6 1202.2 369.7 1204.2 369.7 1206.2 369.7 1208.2 369.7 1210.2 369.7 1212.2 369.7 1214.2 369.7 1216.2 369.7 1218.2 369.7 1220.2 369.7 1222.2 369.7 1224.2 369.7 1226.2 369.7 1228.2 369.7 1230.2 369.7 1232.2 369.7 1234.2 369.8 1236.2 370.0 1238.1 370.2 1240.1 370.6 1242.0 371.1 1243.8 371.8 1245.7 372.5 1247.4 373.4 1249.1 374.4 1250.7 375.6 1252.2 376.8 1253.7 378.1 1255.3 379.4 1256.7 380.8 1258.2 382.1 1259.6 383.5 1261.0 384.9 1262.4 386.4 1263.7 387.9 1265.0 389.4 1266.3 391.0 1267.5 392.5 1268.8 394.1 1270.0 395.7 1271.1 397.3 1272.3 399.0 1273.4 400.6 1274.4 402.3 1275.5 404.0 1276.5 405.7 1277.6 407.4 1278.7 409.1 1279.7 410.8 1280.8 412.5 1281.9 414.1 1283.1 415.8 1284.3 417.4 1285.5 418.9 1286.8 420.5 1288.1 422.0 1289.3 423.5 1290.6 425.1 1291.9 426.6 1293.2 428.2 1294.4 429.8 1295.6 431.4 1296.7 433.0 1297.9 434.6 1299.0 436.3 1300.1 438.0 1301.2 439.6 1302.4 441.2 1303.5 442.9 1304.8 444.4 1306.1 445.9 1307.5 447.4 1308.9 448.8 1310.3 450.2 1311.7 451.5 1313.2 452.9 1314.7 454.3 1316.1 455.7 1317.6 457.0 1319.1 458.4 1320.6 459.7 1322.1 461.0 1323.6 462.3 1325.2 463.5 1326.7 464.8 1328.2 466.1 1329.7 467.4 1331.1 468.8 1332.4 470.2 1333.6 471.8 1334.7 473.5 1335.8 475.2 1336.8 476.9 1337.7 478.6 1338.7 480.4 1339.7 482.1 1340.7 483.9 1341.6 485.6 1342.6 487.4 1343.6 489.1 1344.5 490.9 1345.4 492.7 1346.3 494.5 1347.1 496.3 1347.9 498.1 1348.8 499.9 1349.6 501.8 1350.4 503.6 1351.2 505.4 1352.1 507.2 1352.9 509.1 1353.7 510.9 1354.5 512.7 1355.3 514.5 1356.2 516.4 1357.0 518.2 1357.7 520.0 1358.5 521.9 1359.2 523.7 1360.0 525.6 1360.7 527.5 1361.5 529.3 1362.2 531.2 1363.0 533.0 1363.7 534.9 1364.4 536.7 1365.2 538.6 1365.9 540.5 1366.5 542.4 1367.1 544.3 1367.7 546.2 1368.2 548.1 1368.7 550.0 1369.2 552.0 1369.7 553.9 1370.2 555.9 1370.7 557.8 1371.2 559.7 1371.7 561.7 1372.2 563.6 1372.7 565.6 1373.1 567.5 1373.6 569.5 1374.1 571.4 1374.6 573.3 1375.1 575.3 1375.6 577.2 1376.1 579.2 1376.5 581.1 1377.0 583.0 1377.5 585.0 1378.0 586.9 1378.5 588.9 1378.9 590.8 1379.4 592.8 1379.9 594.7 1380.4 596.6 1380.9 598.6 1381.4 600.5 1381.9 602.4 1382.5 604.4 1383.0 606.3 1383.6 608.2 1384.2 610.1 1384.8 612.0 1385.3 613.9 1385.9 615.9 1386.5 617.8 1387.1 619.7 1387.6 621.6 1388.2 623.5 1388.8 625.5 1389.3 627.4 1389.8 629.3 1390.3 631.3 1390.8 633.2 1391.3 635.1 1391.8 637.1 1392.2 639.0 1392.7 641.0 1393.2 642.9 1393.7 644.9 1394.2 646.8 1394.6 648.7 1395.1 650.7 1395.6 652.6 1396.1 654.6 1396.6 656.5 1397.1 658.4 1397.7 660.4 1398.2 662.3 1398.7 664.2 1399.2 666.1 1399.8 668.1 1400.3 670.0 1400.8 671.9 1401.4 673.9 1401.9 675.8 1402.4 677.7 1403.0 679.6 1403.6 681.5 1404.2 683.4 1404.9 685.3 1405.6 687.2 1406.3 689.1 1407.0 691.0 1407.7 692.8 1408.4 694.7 1409.1 696.6 1409.8 698.4 1410.5 700.3 1411.2 702.2 1412.0 704.0 1412.7 705.9 1413.4 707.8 1414.1 709.7 1414.8 711.5 1415.6 713.4 1416.3 715.2 1417.0 717.1 1417.8 719.0 1418.5 720.8 1419.2 722.7 1420.0 724.5 1420.7 726.4 1421.5 728.3 1422.2 730.1 1423.0 732.0 1423.7 733.8 1424.5 735.7 1425.3 737.5 1426.2 739.3 1427.0 741.1 1428.0 742.9 1428.9 744.6 1429.9 746.4 1430.8 748.1 1431.8 749.9 1432.8 751.6 1433.7 753.4 1434.7 755.1 1435.7 756.9 1436.8 758.5 1437.9 760.2 1439.1 761.8 1440.4 763.3 1441.7 764.7 1443.1 766.2 1444.5 767.6 1445.8 769.1 1447.0 770.6 1448.2 772.2 1449.2 773.9 1450.2 775.7 1451.1 777.4 1452.0 779.2 1452.9 781.0 1453.8 782.8 1454.7 784.6 1455.6 786.4 1456.5 788.2 1457.4 789.9 1458.3 791.7 1459.2 793.5 1460.1 795.3 1461.1 797.1 1462.0 798.8 1463.0 800.6 1464.0 802.3 1464.9 804.1 1465.9 805.8 1466.9 807.6 1467.8 809.3 1468.8 811.1 1469.8 812.8 1470.8 814.6 1471.7 816.3 1472.7 818.1 1473.6 819.8 1474.6 821.6 1475.5 823.4 1476.5 825.1 1477.4 826.9 1478.4 828.7 1479.3 830.4 1480.2 832.2 1481.2 833.9 1482.1 835.7 1483.1 837.5 1484.0 839.2 1485.0 841.0 1485.9 842.8 1486.9 844.5 1487.9 846.2 1488.9 848.0 1489.9 849.7 1490.9 851.4 1492.0 853.1 1493.0 854.8 1494.0 856.6 1495.0 858.3 1496.1 860.0 1497.1 861.7 1498.1 863.4 1499.2 865.2 1500.2 866.9 1501.2 868.6 1502.2 870.3 1503.2 872.0 1504.3 873.8 1505.3 875.5 1506.3 877.2 1507.2 879.0 1508.2 880.7 1509.2 882.5 1510.2 884.2 1511.1 886.0 1512.1 887.7 1513.1 889.5 1514.1 891.2 1515.0 893.0 1516.0 894.7 1517.0 896.4 1518.0 898.2 1519.0 899.9 1520.0 901.6 1521.1 903.3 1522.2 905.0 1523.3 906.6 1524.4 908.3 1525.6 909.9 1526.8 911.5 1527.9 913.2 1529.1 914.8 1530.2 916.4 1531.4 918.1 1532.6 919.7 1533.7 921.3 1534.9 922.9 1536.2 924.5 1537.4 926.1 1538.7 927.6 1539.9 929.2 1541.2 930.7 1542.5 932.2 1543.8 933.8 1545.1 935.3 1546.3 936.8 1547.6 938.4 1548.9 939.9 1550.2 941.5 1551.4 943.0 1552.7 944.6 1553.9 946.2 1555.0 947.8 1556.1 949.5 1557.2 951.1 1558.3 952.8 1559.4 954.5 1560.4 956.2 1561.5 957.9 1562.5 959.6 1563.6 961.3 1564.7 963.0 1565.7 964.7 1566.8 966.4 1567.9 968.1 1568.9 969.8 1570.0 971.5 1571.1 973.2 1572.1 974.9 1573.2 976.5 1574.3 978.2 1575.4 979.9 1576.5 981.6 1577.6 983.3 1578.6 984.9 1579.7 986.6 1580.8 988.3 1581.9 990.0 1583.0 991.6 1584.2 993.3 1585.3 994.9 1586.5 996.5 1587.7 998.1 1588.9 999.7 1590.2 1001.3 1591.4 1002.9 1592.6 1004.4 1593.8 1006.0 1595.1 1007.6 1596.3 1009.2 1597.5 1010.8 1598.8 1012.3 1600.1 1013.9 1601.4 1015.4 1602.7 1016.8 1604.1 1018.3 1605.5 1019.7 1607.0 1021.1 1608.4 1022.5 1609.9 1023.8 1611.3 1025.2 1612.8 1026.6 1614.2 1028.0 1615.6 1029.4 1617.1 1030.8 1618.5 1032.2 1619.8 1033.7 1621.1 1035.2 1622.4 1036.7 1623.7 1038.2 1625.0 1039.7 1626.3 1041.3 1627.6 1042.8 1628.9 1044.4 1630.1 1045.9 1631.4 1047.4 1632.7 1049.0 1634.0 1050.5 1635.3 1052.0 1636.5 1053.6 1637.8 1055.1 1639.1 1056.6 1640.4 1058.2 1641.7 1059.7 1643.1 1061.1 1644.5 1062.5 1645.9 1063.9 1647.4 1065.3 1648.9 1066.6 1650.4 1067.9 1651.9 1069.2 1653.4 1070.6 1654.9 1071.9 1656.4 1073.2 1657.9 1074.5 1659.4 1075.9 1660.9 1077.2 1662.3 1078.6 1663.7 1080.0 1665.1 1081.5 1666.4 1083.0 1667.7 1084.5 1669.0 1086.0 1670.3 1087.5 1671.6 1089.0 1672.9 1090.6 1674.3 1092.1 1675.6 1093.6 1676.9 1095.0 1678.3 1096.4 1679.8 1097.8 1681.2 1099.2 1682.7 1100.5 1684.2 1101.9 1685.7 1103.2 1687.2 1104.5 1688.7 1105.9 1690.2 1107.2 1691.7 1108.5 1693.2 1109.9 1694.7 1111.2 1696.2 1112.5 1697.7 1113.8 1699.3 1115.0 1700.8 1116.3 1702.5 1117.4 1704.1 1118.6 1705.8 1119.7 1707.4 1120.8 1709.1 1121.9 1710.7 1123.0 1712.4 1124.2 1714.1 1125.3 1715.7 1126.4 1717.3 1127.6 1719.0 1128.7 1720.6 1129.9 1722.3 1131.0 1723.9 1132.2 1725.5 1133.3 1727.2 1134.5 1728.8 1135.6 1730.4 1136.8 1732.0 1138.0 1733.7 1139.1 1735.3 1140.3 1736.9 1141.5 1738.5 1142.7 1740.1 1143.9 1741.7 1145.1 1743.3 1146.3 1744.9 1147.5 1746.5 1148.8 1748.0 1150.0 1749.6 1151.3 1751.1 1152.5 1752.7 1153.8 1754.2 1155.1 1755.8 1156.3 1757.3 1157.6 1758.9 1158.8 1760.5 1160.0 1762.2 1161.0 1763.9 1162.0 1765.7 1162.9 1767.5 1163.7 1769.3 1164.5 1771.2 1165.3 1773.0 1166.2 1774.8 1167.0 1776.6 1167.9 1778.3 1168.9 1780.0 1169.9 1781.6 1171.0 1783.3 1172.2 1784.9 1173.3 1786.6 1174.5 1788.2 1175.7 1789.8 1176.8 1791.4 1178.0 1793.1 1179.1 1794.7 1180.2 1796.4 1181.4 1798.1 1182.5 1799.7 1183.6 1801.4 1184.7 1803.0 1185.8 1804.7 1187.0 1806.3 1188.2 1807.8 1189.4 1809.3 1190.8 1810.8 1192.1 1812.2 1193.5 1813.6 1194.9 1815.0 1196.3 1816.4 1197.7 1817.9 1199.2 1819.3 1200.5 1820.7 1201.9 1822.2 1203.2 1823.8 1204.4 1825.5 1205.5 1827.2 1206.5 1828.9 1207.5 1830.6 1208.4 1832.4 1209.4 1834.1 1210.5 1835.7 1211.6 1837.2 1212.8 1838.8 1214.1 1840.2 1215.5 1841.7 1216.8 1843.2 1218.2 1844.7 1219.5 1846.1 1220.9 1847.6 1222.3 1849.0 1223.6 1850.5 1225.0 1851.9 1226.4 1853.4 1227.8 1854.8 1229.2 1856.2 1230.6 1857.6 1232.0 1859.0 1233.4 1860.5 1234.8 1861.9 1236.2 1863.3 1237.6 1864.8 1238.9 1866.4 1240.1 1868.0 1241.1 1869.7 1242.0 1871.6 1242.8 1873.4 1243.5 1875.3 1244.2 1877.2 1244.8 1879.1 1245.3 1881.1 1245.8 1883.0 1246.3 1885.0 1246.7 1886.9 1247.0 1888.9 1247.4 1890.8 1247.8 1892.8 1248.3 1894.7 1248.9 1896.5 1249.5 1898.3 1250.3 1900.1 1251.2 1901.9 1252.1 1903.7 1253.0 1905.5 1253.9 1907.2 1254.9 1909.0 1255.9 1910.7 1256.9 1912.4 1258.0 1914.0 1259.1 1915.7 1260.2 1917.4 1261.3 1919.0 1262.4 1920.7 1263.5 1922.3 1264.6 1924.0 1265.8 1925.6 1266.9 1927.3 1268.1 1928.9 1269.2 1930.5 1270.4 1932.1 1271.5 1933.8 1272.6 1935.5 1273.6 1937.2 1274.5 1939.0 1275.1 1940.9 1275.5 1942.8 1275.7 1944.8 1275.9 1946.7 1276.1 1948.6 1276.4 1950.5 1276.8 1952.4 1277.5 1954.2 1278.3 1956.0 1279.1 1957.8 1280.0 1959.5 1281.0 1961.2 1282.0 1962.8 1283.2 1964.3 1284.4 1965.7 1285.8 1967.1 1287.2 1968.4 1288.7 1969.7 1290.2 1971.0 1291.8 1972.3 1293.3 1973.6 1294.8 1975.0 1296.2 1976.3 1297.7 1977.7 1299.1 1979.2 1300.5 1980.7 1301.9 1982.2 1303.2 1983.7 1304.5 1985.2 1305.8 1986.7 1307.1 1988.2 1308.5 1989.7 1309.8 1991.2 1311.0 1992.8 1312.2 1994.4 1313.2 1996.2 1314.0 1998.0 1314.6 1999.9 1315.0 2001.8 1315.3 2003.8 1315.4 2005.8 1315.5 2007.8 1315.4 2009.7 1315.2 2011.7 1315.0 2013.7 1314.7 2015.7 1314.4 2017.6 1314.0 2019.6 1313.7 2021.6 1313.4 2023.5 1313.1 2025.5 1312.9 2027.5 1312.8 2029.5 1312.8 2031.5 1312.8 2033.5 1313.0 2035.5 1313.1 2037.5 1313.3 2039.4 1313.6 2041.4 1313.8 2043.4 1314.2 2045.4 1314.5 2047.3 1314.9 2049.3 1315.3 2051.2 1315.8 2053.2 1316.2 2055.1 1316.6 2057.1 1317.0" stroke="#ff0000"/>
<path d="M338.5 1389.0L340.5 1388.9 342.5 1388.9 344.5 1388.8 346.5 1388.8 348.5 1388.7 350.5 1388.7 352.5 1388.6 354.5 1388.5 356.5 1388.5 358.5 1388.4 360.5 1388.4 362.5 1388.3 364.5 1388.2 366.5 1388.2 368.5 1388.1 370.5 1388.1 372.5 1388.0 374.5 1388.0 376.5 1387.9 378.5 1387.8 380.5 1387.8 382.5 1387.7 384.5 1387.7 386.5 1387.6 388.5 1387.6 390.5 1387.5 392.5 1387.5 394.5 1387.5 396.5 1387.5 398.5 1387.5 400.5 1387.5 402.5 1387.5 404.5 1387.4 406.5 1387.4 408.5 1387.4 410.5 1387.4 412.5 1387.4 414.5 1387.4 416.5 1387.4 418.5 1387.4 420.5 1387.4 422.5 1387.4 424.5 1387.4 426.5 1387.4 428.5 1387.3 430.5 1387.3 432.5 1387.3 434.5 1387.3 436.5 1387.3 438.5 1387.2 440.5 1387.1 442.5 1386.9 444.5 1386.7 446.4 1386.4 448.4 1386.1 450.4 1385.7 452.3 1385.3 454.3 1384.8 456.2 1384.3 458.1 1383.8 460.1 1383.3 462.0 1382.8 463.9 1382.3 465.9 1381.9 467.8 1381.4 469.8 1381.0 471.7 1380.5 473.7 1380.0 475.6 1379.5 477.6 1379.1 479.5 1378.7 481.5 1378.3 483.4 1378.0 485.4 1377.8 487.4 1377.6 489.4 1377.4 491.4 1377.2 493.4 1377.0 495.4 1376.7 497.4 1376.5 499.3 1376.2 501.3 1376.0 503.3 1375.6 505.3 1375.3 507.2 1375.0 509.2 1374.7 511.2 1374.4 513.2 1374.2 515.2 1373.9 517.1 1373.6 519.1 1373.3 521.1 1373.0 523.1 1372.8 525.1 1372.5 527.0 1372.2 529.0 1372.0 531.0 1371.7 533.0 1371.4 535.0 1371.2 537.0 1370.9 538.9 1370.7 540.9 1370.4 542.9 1370.2 544.9 1370.0 546.9 1369.7 548.9 1369.5 550.9 1369.2 552.8 1369.0 554.8 1368.7 556.8 1368.5 558.8 1368.2 560.8 1368.0 562.8 1367.7 564.8 1367.5 566.7 1367.2 568.7 1367.0 570.7 1366.7 572.7 1366.5 574.7 1366.2 576.7 1366.0 578.6 1365.7 580.6 1365.5 582.6 1365.2 584.6 1364.9 586.6 1364.6 588.6 1364.3 590.5 1364.0 592.5 1363.7 594.5 1363.4 596.5 1363.1 598.4 1362.8 600.4 1362.5 602.4 1362.1 604.3 1361.7 606.3 1361.3 608.3 1360.9 610.2 1360.5 612.2 1360.1 614.1 1359.7 616.0 1359.1 617.8 1358.4 619.6 1357.6 621.3 1356.6 623.0 1355.6 624.6 1354.4 626.1 1353.1 627.5 1351.8 628.8 1350.3 630.0 1348.7 631.1 1347.1 632.1 1345.4 633.2 1343.7 634.2 1342.0 635.1 1340.2 636.1 1338.4 637.0 1336.7 637.9 1334.9 638.9 1333.1 639.8 1331.4 640.9 1329.7 642.0 1328.1 643.1 1326.4 644.1 1324.8 645.1 1323.1 646.1 1321.6 647.0 1320.3 647.8 1319.4 648.7 1318.7 649.5 1318.0 650.3 1317.1 651.0 1315.9 651.7 1314.3 652.3 1312.6 653.0 1310.7 653.6 1308.8 654.2 1306.9 654.8 1305.0 655.5 1303.1 656.1 1301.2 656.7 1299.3 657.3 1297.4 657.9 1295.5 658.5 1293.6 659.1 1291.7 659.7 1289.8 660.3 1287.9 660.9 1286.0 661.5 1284.1 662.1 1282.2 662.8 1280.3 663.5 1278.4 664.2 1276.5 664.9 1274.7 665.6 1272.8 666.3 1270.9 666.9 1269.0 667.4 1267.1 667.8 1265.2 668.3 1263.2 668.7 1261.3 669.1 1259.3 669.5 1257.3 669.9 1255.4 670.3 1253.4 670.7 1251.5 671.1 1249.5 671.5 1247.5 672.0 1245.6 672.4 1243.6 672.8 1241.7 673.3 1239.7 673.7 1237.8 674.1 1235.8 674.5 1233.9 675.0 1231.9 675.4 1230.0 675.8 1228.0 676.2 1226.0 676.7 1224.1 677.1 1222.1 677.5 1220.2 677.9 1218.2 678.4 1216.3 678.8 1214.3 679.2 1212.4 679.6 1210.4 680.0 1208.4 680.5 1206.5 680.9 1204.5 681.3 1202.6 681.7 1200.6 682.1 1198.7 682.6 1196.7 683.0 1194.8 683.4 1192.8 683.7 1190.8 684.1 1188.9 684.4 1186.9 684.7 1184.9 685.0 1182.9 685.3 1181.0 685.6 1179.0 685.9 1177.0 686.2 1175.0 686.5 1173.0 686.7 1171.1 687.0 1169.1 687.3 1167.1 687.6 1165.1 687.9 1163.1 688.2 1161.2 688.5 1159.2 688.8 1157.2 689.0 1155.2 689.3 1153.2 689.6 1151.3 689.9 1149.3 690.2 1147.3 690.5 1145.3 690.8 1143.3 691.1 1141.4 691.4 1139.4 691.7 1137.4 692.0 1135.4 692.3 1133.5 692.6 1131.5 692.9 1129.5 693.2 1127.5 693.5 1125.6 693.8 1123.6 694.1 1121.6 694.4 1119.6 694.7 1117.6 695.0 1115.7 695.4 1113.7 695.7 1111.7 696.0 1109.7 696.3 1107.8 696.6 1105.8 696.9 1103.8 697.2 1101.8 697.5 1099.8 697.8 1097.9 698.1 1095.9 698.4 1093.9 698.7 1091.9 699.0 1090.0 699.3 1088.0 699.6 1086.0 699.9 1084.0 700.2 1082.0 700.5 1080.1 700.7 1078.1 701.0 1076.1 701.3 1074.1 701.5 1072.1 701.8 1070.1 702.0 1068.2 702.3 1066.2 702.6 1064.2 702.8 1062.2 703.1 1060.2 703.3 1058.2 703.6 1056.3 703.8 1054.3 704.1 1052.3 704.4 1050.3 704.6 1048.3 704.9 1046.3 705.1 1044.4 705.4 1042.4 705.6 1040.4 705.9 1038.4 706.1 1036.4 706.4 1034.4 706.6 1032.4 706.8 1030.5 707.1 1028.5 707.3 1026.5 707.6 1024.5 707.8 1022.5 708.0 1020.5 708.3 1018.5 708.5 1016.6 708.8 1014.6 709.0 1012.6 709.2 1010.6 709.5 1008.6 709.7 1006.6 710.0 1004.6 710.2 1002.7 710.5 1000.7 710.7 998.7 711.0 996.7 711.3 994.7 711.6 992.8 711.9 990.8 712.3 988.8 712.6 986.8 712.9 984.9 713.2 982.9 713.5 980.9 713.8 978.9 714.1 976.9 714.4 975.0 714.7 973.0 715.0 971.0 715.2 969.0 715.4 967.0 715.6 965.0 715.8 963.1 716.0 961.1 716.2 959.1 716.4 957.1 716.5 955.1 716.7 953.1 716.9 951.1 717.1 949.1 717.2 947.1 717.4 945.1 717.6 943.1 717.8 941.1 717.9 939.1 718.1 937.2 718.3 935.2 718.4 933.2 718.6 931.2 718.8 929.2 719.1 927.2 719.3 925.2 719.5 923.2 719.7 921.2 720.0 919.2 720.2 917.3 720.4 915.3 720.7 913.3 720.9 911.3 721.1 909.3 721.4 907.3 721.6 905.3 721.9 903.4 722.1 901.4 722.3 899.4 722.6 897.4 722.8 895.4 723.0 893.4 723.3 891.4 723.5 889.4 723.7 887.5 724.0 885.5 724.2 883.5 724.4 881.5 724.7 879.5 724.9 877.5 725.1 875.5 725.4 873.6 725.6 871.6 725.8 869.6 726.0 867.6 726.2 865.6 726.3 863.6 726.5 861.6 726.7 859.6 726.9 857.6 727.0 855.6 727.2 853.6 727.4 851.6 727.6 849.7 727.8 847.7 728.0 845.7 728.2 843.7 728.4 841.7 728.6 839.7 728.8 837.7 729.0 835.7 729.2 833.7 729.4 831.7 729.6 829.8 729.8 827.8 730.1 825.8 730.3 823.8 730.5 821.8 730.7 819.8 730.9 817.8 731.2 815.8 731.4 813.8 731.6 811.9 731.8 809.9 732.0 807.9 732.3 805.9 732.5 803.9 732.7 801.9 732.9 799.9 733.1 797.9 733.3 796.0 733.6 794.0 733.8 792.0 734.0 790.0 734.2 788.0 734.4 786.0 734.7 784.0 734.9 782.0 735.1 780.0 735.3 778.1 735.5 776.1 735.8 774.1 736.0 772.1 736.2 770.1 736.4 768.1 736.6 766.1 736.8 764.1 737.1 762.1 737.3 760.2 737.5 758.2 737.7 756.2 737.9 754.2 738.1 752.2 738.3 750.2 738.5 748.2 738.7 746.2 738.9 744.2 739.1 742.2 739.3 740.3 739.4 738.3 739.6 736.3 739.8 734.3 740.0 732.3 740.1 730.3 740.3 728.3 740.5 726.3 740.6 724.3 740.8 722.3 741.0 720.3 741.2 718.3 741.4 716.3 741.5 714.3 741.7 712.4 741.9 710.4 742.1 708.4 742.3 706.4 742.5 704.4 742.7 702.4 742.9 700.4 743.1 698.4 743.2 696.4 743.4 694.4 743.6 692.4 743.8 690.4 744.0 688.5 744.2 686.5 744.4 684.5 744.6 682.5 744.8 680.5 744.9 678.5 745.1 676.5 745.3 674.5 745.5 672.5 745.7 670.5 745.9 668.5 746.1 666.5 746.3 664.6 746.5 662.6 746.6 660.6 746.8 658.6 747.0 656.6 747.2 654.6 747.4 652.6 747.6 650.6 747.8 648.6 748.0 646.6 748.2 644.6 748.4 642.7 748.5 640.7 748.7 638.7 748.9 636.7 749.1 634.7 749.3 632.7 749.5 630.7 749.7 628.7 749.9 626.7 750.1 624.7 750.3 622.7 750.5 620.8 750.7 618.8 750.9 616.8 751.0 614.8 751.2 612.8 751.4 610.8 751.6 608.8 751.7 606.8 751.9 604.8 752.1 602.8 752.2 600.8 752.4 598.8 752.6 596.8 752.8 594.8 753.0 592.9 753.2 590.9 753.4 588.9 753.6 586.9 753.8 584.9 754.0 582.9 754.2 580.9 754.4 578.9 754.6 576.9 754.8 574.9 755.0 573.0 755.2 571.0 755.4 569.0 755.6 567.0 755.8 565.0 756.0 563.0 756.2 561.0 756.3 559.0 756.5 557.0 756.7 555.0 756.9 553.0 757.1 551.1 757.3 549.1 757.5 547.1 757.7 545.1 757.9 543.1 758.1 541.1 758.3 539.1 758.5 537.1 758.7 535.1 758.9 533.1 759.1 531.1 759.3 529.2 759.5 527.2 759.7 525.2 759.9 523.2 760.1 521.2 760.3 519.2 760.5 517.2 760.8 515.2 761.0 513.2 761.2 511.3 761.5 509.3 761.7 507.3 762.0 505.3 762.2 503.3 762.4 501.3 762.6 499.3 762.8 497.3 763.0 495.3 763.1 493.4 763.3 491.4 763.5 489.4 763.6 487.4 763.8 485.4 763.9 483.4 764.1 481.4 764.3 479.4 764.5 477.4 764.8 475.4 765.0 473.4 765.2 471.5 765.5 469.5 765.7 467.5 766.0 465.5 766.2 463.5 766.4 461.5 766.7 459.5 766.9 457.6 767.2 455.6 767.4 453.6 767.6 451.6 767.9 449.6 768.1 447.6 768.4 445.6 768.6 443.7 768.8 441.7 769.1 439.7 769.3 437.7 769.6 435.7 769.8 433.7 770.1 431.7 770.3 429.7 770.5 427.8 770.8 425.8 771.0 423.8 771.3 421.8 771.5 419.8 771.7 417.8 772.0 415.8 772.2 413.9 772.5 411.9 772.7 409.9 772.9 407.9 773.2 405.9 773.4 403.9 773.7 401.9 773.9 400.0 774.1 398.0 774.4 396.0 774.6 394.0 774.8 392.0 775.0 390.0 775.3 388.0 775.5 386.0 775.7 384.1 775.9 382.1 776.1 380.1 776.3 378.1 776.5 376.1 776.6 374.1 776.8 372.1 776.9 370.1 777.1 368.1 777.2 366.1 777.4 364.1 777.6 362.1 777.8 360.1 778.0 358.2 778.2 356.2 778.4 354.2 778.6 352.2 778.9 350.2 779.1 348.2 779.4 346.2 779.6 344.2 779.8 342.3 780.1 340.3 780.3 338.3 780.5 336.3 780.8 334.3 781.0 332.3 781.3 330.3 781.5 328.4 781.7 326.4 782.0 324.4 782.2 322.4 782.5 320.4 782.7 318.4 782.9 316.4 783.2 314.5 783.4 312.5 783.7 310.5 783.9 308.5 784.2 306.5 784.4 304.5 784.7 302.5 784.9 300.6 785.2 298.6 785.4 296.6 785.7 294.6 785.9 292.6 786.2 290.6 786.4 288.7 786.7 286.7 786.9 284.7 787.2 282.7 787.4 280.7 787.7 278.7 788.0 276.8 788.3 274.8 788.6 272.8 788.9 270.8 789.2 268.8 789.5 266.9 789.8 264.9 790.1 262.9 790.4 260.9 790.7 258.9 791.0 257.0 791.3 255.0 791.5 253.0 791.8 251.0 792.1 249.1 792.4 247.1 792.7 245.1 793.0 243.1 793.3 241.1 793.7 239.2 794.0 237.2 794.3 235.2 794.6 233.3 795.0 231.3 795.3 229.3 795.6 227.3 796.0 225.4 796.3 223.4 796.6 221.4 797.0 219.4 797.3 217.5 797.6 215.5 798.0 213.5 798.3 211.6 798.6 209.6 798.9 207.6 799.3 205.6 799.5 203.6 799.8 201.7 800.1 199.7 800.4 197.7 800.7 195.7 801.1 193.8 801.5 191.8 801.9 189.9 802.4 187.9 802.9 186.0 803.4 184.0 803.9 182.1 804.3 180.2 804.8 178.2 805.3 176.3 805.8 174.3 806.2 172.4 806.7 170.4 807.2 168.5 807.7 166.6 808.2 164.6 808.7 162.7 809.2 160.8 809.7 158.8 810.3 156.9 810.8 155.0 811.3 153.0 811.9 151.1 812.4 149.2 813.0 147.3 813.6 145.4 814.2 143.5 814.8 141.5 815.4 139.6 816.0 137.7 816.7 135.9 817.3 134.0 818.0 132.1 818.8 130.2 819.5 128.4 820.2 126.5 821.0 124.7 821.8 122.8 822.6 121.0 823.4 119.2 824.2 117.3 825.1 115.5 826.0 113.8 827.0 112.1 828.2 110.5 829.4 109.1 830.8 107.8 832.3 106.8 834.0 106.1 835.7 105.9 837.4 106.1 839.1 106.7 840.7 107.6 842.3 108.8 843.7 110.1 845.1 111.5 846.3 113.1 847.5 114.6 848.7 116.3 849.7 118.0 850.7 119.7 851.6 121.5 852.4 123.3 853.2 125.1 854.1 127.0 854.9 128.8 855.7 130.6 856.5 132.5 857.3 134.3 858.1 136.1 858.9 137.9 859.7 139.8 860.6 141.6 861.4 143.4 862.3 145.2 863.1 147.0 864.0 148.8 864.8 150.6 865.7 152.4 866.5 154.2 867.4 156.0 868.3 157.8 869.2 159.6 870.2 161.4 871.1 163.1 872.0 164.9 873.0 166.7 873.9 168.4 874.9 170.2 875.8 172.0 876.7 173.7 877.6 175.5 878.5 177.3 879.3 179.1 880.1 181.0 880.9 182.8 881.7 184.6 882.4 186.5 883.0 188.4 883.6 190.3 884.0 192.2 884.4 194.2 884.8 196.2 885.2 198.1 885.6 200.1 885.9 202.0 886.3 204.0 886.8 205.9 887.5 207.7 888.3 209.4 889.2 211.0 890.3 212.5 891.4 214.1 892.3 215.8 893.0 217.6 893.6 219.4 894.2 221.3 894.7 223.2 895.3 225.2 895.8 227.1 896.3 229.0 896.8 231.0 897.3 232.9 897.8 234.8 898.2 236.8 898.7 238.7 899.2 240.7 899.7 242.6 900.2 244.5 900.7 246.5 901.2 248.4 901.7 250.4 902.2 252.3 902.8 254.2 903.4 256.1 904.0 258.0 904.7 259.9 905.3 261.8 905.9 263.7 906.5 265.6 907.2 267.5 907.8 269.4 908.5 271.3 909.2 273.2 909.9 275.0 910.6 276.9 911.4 278.7 912.1 280.6 912.9 282.5 913.6 284.3 914.4 286.2 915.2 288.0 916.0 289.8 916.8 291.6 917.7 293.4 918.5 295.2 919.3 297.1 920.0 298.9 920.6 300.8 921.1 302.7 921.5 304.7 921.9 306.6 922.3 308.6 922.8 310.5 923.3 312.4 924.0 314.3 924.6 316.2 925.3 318.1 925.9 320.0 926.6 321.9 927.2 323.7 927.9 325.6 928.6 327.5 929.2 329.4 929.9 331.3 930.6 333.2 931.2 335.1 931.9 336.9 932.7 338.8 933.5 340.6 934.2 342.5 935.1 344.3 935.9 346.1 936.7 347.9 937.5 349.8 938.4 351.6 939.2 353.4 940.0 355.2 940.8 357.0 941.7 358.9 942.5 360.7 943.3 362.5 944.2 364.3 945.0 366.1 946.0 367.9 946.9 369.6 947.9 371.4 948.9 373.1 949.9 374.8 951.0 376.5 952.0 378.2 953.1 379.9 954.2 381.6 955.3 383.2 956.5 384.8 957.7 386.4 958.9 388.0 960.2 389.6 961.4 391.1 962.7 392.7 963.9 394.2 965.2 395.8 966.5 397.3 967.8 398.8 969.1 400.3 970.5 401.8 971.8 403.3 973.2 404.8 974.5 406.3 975.9 407.7 977.2 409.2 978.5 410.7 979.8 412.3 981.1 413.8 982.4 415.3 983.6 416.9 984.9 418.5 986.1 420.0 987.3 421.6 988.6 423.2 989.8 424.7 991.1 426.3 992.3 427.8 993.6 429.4 994.8 431.0 996.1 432.5 997.3 434.1 998.6 435.6 999.9 437.2 1001.1 438.7 1002.4 440.3 1003.7 441.8 1005.0 443.3 1006.3 444.8 1007.7 446.3 1009.0 447.8 1010.3 449.3 1011.7 450.8 1013.0 452.2 1014.4 453.7 1015.8 455.1 1017.2 456.6 1018.6 457.9 1020.1 459.3 1021.6 460.7 1023.0 462.0 1024.5 463.3 1026.0 464.7 1027.5 466.0 1028.9 467.4 1030.4 468.8 1031.8 470.2 1033.1 471.7 1034.4 473.2 1035.7 474.7 1037.0 476.3 1038.2 477.8 1039.4 479.4 1040.7 481.0 1041.8 482.6 1042.9 484.3 1043.8 486.0 1044.7 487.8 1045.5 489.6 1046.3 491.4 1047.1 493.2 1047.9 495.0 1048.8 496.8 1049.7 498.6 1050.6 500.4 1051.4 502.2 1052.3 504.0 1053.2 505.8 1054.1 507.6 1054.9 509.4 1055.7 511.3 1056.5 513.1 1057.3 514.9 1058.1 516.8 1058.8 518.6 1059.6 520.5 1060.4 522.3 1061.1 524.2 1061.9 526.0 1062.6 527.9 1063.4 529.7 1064.1 531.6 1064.9 533.4 1065.6 535.3 1066.4 537.2 1067.1 539.0 1067.9 540.9 1068.6 542.7 1069.3 544.6 1070.1 546.4 1070.8 548.3 1071.6 550.2 1072.3 552.0 1073.0 553.9 1073.8 555.7 1074.5 557.6 1075.2 559.5 1075.9 561.3 1076.6 563.2 1077.3 565.1 1077.9 567.0 1078.6 568.9 1079.3 570.8 1079.9 572.7 1080.6 574.5 1081.3 576.4 1081.9 578.3 1082.6 580.2 1083.2 582.1 1083.9 584.0 1084.6 585.9 1085.2 587.8 1085.9 589.7 1086.5 591.5 1087.2 593.4 1087.9 595.3 1088.5 597.2 1089.1 599.1 1089.8 601.0 1090.4 602.9 1091.0 604.8 1091.5 606.7 1092.1 608.7 1092.7 610.6 1093.3 612.5 1093.9 614.4 1094.4 616.3 1095.0 618.2 1095.6 620.1 1096.2 622.1 1096.8 624.0 1097.3 625.9 1097.9 627.8 1098.5 629.7 1099.1 631.6 1099.6 633.5 1100.2 635.5 1100.8 637.4 1101.4 639.3 1101.9 641.2 1102.5 643.1 1103.0 645.1 1103.6 647.0 1104.1 648.9 1104.7 650.8 1105.2 652.8 1105.8 654.7 1106.3 656.6 1106.9 658.5 1107.4 660.4 1108.0 662.4 1108.5 664.3 1109.1 666.2 1109.6 668.1 1110.2 670.1 1110.7 672.0 1111.3 673.9 1111.8 675.8 1112.4 677.7 1113.0 679.7 1113.7 681.5 1114.3 683.4 1115.0 685.3 1115.7 687.2 1116.4 689.1 1117.1 690.9 1117.8 692.8 1118.5 694.7 1119.2 696.6 1119.8 698.4 1120.5 700.3 1121.1 702.3 1121.6 704.2 1122.2 706.1 1122.7 708.0 1123.3 709.9 1123.8 711.9 1124.4 713.8 1124.9 715.7 1125.4 717.6 1126.0 719.6 1126.5 721.5 1127.1 723.4 1127.6 725.3 1128.2 727.3 1128.8 729.2 1129.3 731.1 1129.9 733.0 1130.4 734.9 1131.0 736.9 1131.6 738.8 1132.3 740.7 1132.9 742.5 1133.6 744.4 1134.3 746.3 1135.0 748.2 1135.8 750.0 1136.5 751.9 1137.2 753.8 1137.9 755.6 1138.6 757.5 1139.3 759.4 1139.9 761.3 1140.6 763.2 1141.2 765.1 1141.8 767.0 1142.4 768.9 1142.9 770.8 1143.5 772.7 1144.1 774.6 1144.7 776.5 1145.3 778.4 1145.9 780.4 1146.5 782.3 1147.1 784.2 1147.7 786.1 1148.2 788.0 1148.8 789.9 1149.4 791.8 1150.0 793.8 1150.6 795.7 1151.2 797.6 1151.9 799.4 1152.6 801.3 1153.4 803.1 1154.2 805.0 1155.0 806.8 1155.8 808.6 1156.6 810.5 1157.4 812.3 1158.2 814.1 1159.0 816.0 1159.8 817.8 1160.5 819.7 1161.2 821.5 1161.9 823.4 1162.6 825.3 1163.2 827.2 1163.9 829.1 1164.5 831.0 1165.2 832.9 1165.8 834.8 1166.5 836.6 1167.1 838.5 1167.8 840.4 1168.4 842.3 1169.1 844.2 1169.8 846.1 1170.4 848.0 1171.1 849.9 1171.7 851.8 1172.4 853.7 1173.1 855.5 1173.8 857.4 1174.6 859.2 1175.5 861.0 1176.4 862.8 1177.4 864.5 1178.4 866.2 1179.4 868.0 1180.4 869.7 1181.4 871.4 1182.5 873.1 1183.5 874.8 1184.5 876.6 1185.4 878.3 1186.3 880.1 1187.1 881.9 1187.9 883.8 1188.6 885.6 1189.2 887.5 1189.9 889.4 1190.6 891.3 1191.2 893.2 1191.9 895.1 1192.6 896.9 1193.2 898.8 1194.0 900.7 1194.7 902.6 1195.4 904.4 1196.2 906.3 1196.9 908.1 1197.7 910.0 1198.5 911.8 1199.2 913.7 1200.0 915.5 1200.8 917.3 1201.7 919.1 1202.6 920.9 1203.6 922.6 1204.6 924.4 1205.6 926.1 1206.7 927.8 1207.7 929.5 1208.8 931.2 1209.8 932.9 1210.9 934.6 1211.9 936.3 1213.0 938.0 1214.0 939.7 1215.0 941.4 1216.0 943.1 1217.0 944.9 1218.0 946.6 1219.0 948.4 1220.0 950.1 1220.9 951.9 1221.9 953.6 1222.9 955.3 1223.9 957.1 1224.9 958.8 1225.9 960.5 1226.9 962.3 1228.0 964.0 1229.0 965.7 1230.1 967.4 1231.1 969.1 1232.2 970.8 1233.2 972.5 1234.3 974.2 1235.3 975.9 1236.4 977.6 1237.5 979.3 1238.6 980.9 1239.7 982.6 1240.8 984.3 1241.9 985.9 1243.0 987.6 1244.1 989.3 1245.2 990.9 1246.3 992.6 1247.4 994.3 1248.5 995.9 1249.6 997.6 1250.7 999.3 1251.8 1001.0 1252.9 1002.7 1253.9 1004.3 1255.0 1006.0 1256.1 1007.7 1257.1 1009.4 1258.2 1011.1 1259.3 1012.8 1260.3 1014.5 1261.4 1016.2 1262.5 1017.9 1263.5 1019.6 1264.6 1021.3 1265.6 1023.0 1266.7 1024.7 1267.7 1026.4 1268.7 1028.1 1269.8 1029.8 1270.8 1031.5 1271.9 1033.2 1272.9 1034.9 1274.0 1036.6 1275.1 1038.3 1276.2 1040.0 1277.4 1041.6 1278.5 1043.2 1279.8 1044.8 1281.0 1046.4 1282.2 1047.9 1283.5 1049.5 1284.7 1051.1 1285.9 1052.6 1287.2 1054.2 1288.4 1055.8 1289.6 1057.4 1290.9 1058.9 1292.2 1060.5 1293.4 1062.0 1294.7 1063.6 1296.0 1065.1 1297.3 1066.6 1298.6 1068.2 1299.8 1069.7 1301.1 1071.2 1302.4 1072.8 1303.7 1074.3 1305.0 1075.8 1306.3 1077.3 1307.6 1078.9 1308.9 1080.4 1310.3 1081.8 1311.6 1083.3 1312.9 1084.8 1314.3 1086.3 1315.7 1087.7 1317.0 1089.2 1318.4 1090.7 1319.7 1092.1 1321.1 1093.6 1322.5 1095.1 1323.8 1096.6 1325.1 1098.0 1326.5 1099.5 1327.8 1101.0 1329.1 1102.5 1330.4 1104.1 1331.7 1105.6 1333.0 1107.1 1334.3 1108.7 1335.6 1110.2 1336.9 1111.7 1338.3 1113.1 1339.7 1114.4 1341.3 1115.6 1342.9 1116.6 1344.6 1117.6 1346.2 1118.7 1347.8 1119.8 1349.3 1121.1 1350.6 1122.5 1351.8 1124.0 1353.0 1125.6 1354.2 1127.3 1355.3 1128.9 1356.5 1130.5 1357.5 1132.2 1358.6 1133.9 1359.6 1135.6 1360.7 1137.4 1361.7 1139.1 1362.7 1140.8 1363.7 1142.5 1364.7 1144.2 1365.7 1146.0 1366.8 1147.7 1367.8 1149.4 1368.9 1151.1 1370.0 1152.8 1371.0 1154.5 1372.1 1156.1 1373.2 1157.8 1374.3 1159.5 1375.4 1161.1 1376.5 1162.8 1377.7 1164.4 1378.9 1166.0 1380.0 1167.7 1381.2 1169.3 1382.5 1170.8 1383.7 1172.4 1385.0 1173.9 1386.3 1175.4 1387.6 1176.9 1389.0 1178.4 1390.3 1179.9 1391.7 1181.4 1393.0 1182.9 1394.3 1184.4 1395.7 1185.8 1397.0 1187.3 1398.4 1188.8 1399.7 1190.3 1401.0 1191.8 1402.3 1193.4 1403.6 1194.9 1404.9 1196.4 1406.2 1197.9 1407.4 1199.5 1408.8 1201.0 1410.1 1202.5 1411.4 1204.0 1412.8 1205.4 1414.1 1206.9 1415.5 1208.4 1416.9 1209.8 1418.2 1211.3 1419.6 1212.7 1421.0 1214.1 1422.5 1215.5 1423.9 1216.9 1425.4 1218.2 1426.9 1219.5 1428.5 1220.7 1430.1 1221.9 1431.8 1223.0 1433.5 1224.1 1435.2 1225.1 1436.9 1226.1 1438.7 1227.0 1440.5 1227.9 1442.3 1228.7 1444.2 1229.4 1446.0 1230.1 1447.9 1230.7 1449.8 1231.4 1451.6 1232.1 1453.5 1232.9 1455.3 1233.8 1457.0 1234.7 1458.8 1235.7 1460.5 1236.7 1462.1 1237.9 1463.7 1239.1 1465.3 1240.3 1466.8 1241.5 1468.4 1242.8 1470.0 1244.0 1471.5 1245.3 1473.1 1246.6 1474.6 1247.8 1476.2 1249.1 1477.7 1250.4 1479.3 1251.6 1480.8 1252.9 1482.4 1254.1 1484.0 1255.3 1485.5 1256.6 1487.1 1257.8 1488.7 1259.0 1490.3 1260.3 1491.9 1261.5 1493.5 1262.6 1495.1 1263.8 1496.8 1264.9 1498.5 1266.0 1500.1 1267.1 1501.8 1268.2 1503.5 1269.3 1505.2 1270.3 1506.9 1271.4 1508.6 1272.4 1510.4 1273.3 1512.2 1274.2 1514.0 1275.1 1515.8 1275.9 1517.6 1276.7 1519.4 1277.5 1521.3 1278.4 1523.1 1279.2 1524.9 1280.0 1526.7 1280.8 1528.5 1281.7 1530.4 1282.5 1532.2 1283.3 1534.0 1284.1 1535.8 1285.0 1537.7 1285.8 1539.5 1286.7 1541.2 1287.6 1543.0 1288.5 1544.8 1289.5 1546.5 1290.4 1548.2 1291.4 1549.9 1292.5 1551.7 1293.5 1553.4 1294.5 1555.1 1295.5 1556.9 1296.5 1558.6 1297.5 1560.3 1298.5 1562.1 1299.5 1563.8 1300.4 1565.6 1301.2 1567.5 1302.0 1569.3 1302.7 1571.2 1303.3 1573.1 1303.8 1575.1 1304.3 1577.0 1304.9 1578.9 1305.4 1580.9 1305.9 1582.8 1306.4 1584.7 1306.9 1586.7 1307.4 1588.6 1308.0 1590.5 1308.5 1592.5 1309.0 1594.4 1309.5 1596.3 1310.0 1598.3 1310.6 1600.2 1311.1 1602.1 1311.6 1604.0 1312.2 1606.0 1312.7 1607.9 1313.3 1609.8 1313.8 1611.7 1314.4 1613.6 1314.9 1615.6 1315.5 1617.5 1316.1 1619.4 1316.6 1621.3 1317.2 1623.2 1317.7 1625.2 1318.3 1627.1 1318.9 1629.0 1319.5 1630.9 1320.1 1632.8 1320.7 1634.7 1321.3 1636.6 1321.9 1638.5 1322.6 1640.4 1323.2 1642.3 1323.8 1644.2 1324.5 1646.1 1325.1 1648.0 1325.7 1649.9 1326.4 1651.8 1327.0 1653.7 1327.6 1655.6 1328.3 1657.5 1328.9 1659.4 1329.5 1661.3 1330.1 1663.2 1330.7 1665.1 1331.2 1667.1 1331.7 1669.0 1332.2 1671.0 1332.6 1672.9 1333.1 1674.9 1333.5 1676.8 1334.0 1678.8 1334.4 1680.7 1334.9 1682.6 1335.3 1684.6 1335.8 1686.5 1336.3 1688.5 1336.7 1690.4 1337.2 1692.4 1337.6 1694.3 1338.0 1696.3 1338.4 1698.3 1338.7 1700.3 1339.0 1702.2 1339.2 1704.2 1339.5 1706.2 1339.7 1708.2 1339.9 1710.2 1340.1 1712.2 1340.3 1714.2 1340.5 1716.2 1340.7 1718.1 1341.0 1720.1 1341.3 1722.1 1341.6 1724.0 1342.1 1726.0 1342.5 1727.9 1343.0 1729.9 1343.5 1731.8 1343.9 1733.7 1344.4 1735.7 1344.9 1737.6 1345.4 1739.6 1345.9 1741.5 1346.4 1743.4 1346.9 1745.4 1347.3 1747.3 1347.8 1749.3 1348.3 1751.2 1348.7 1753.2 1349.1 1755.1 1349.5 1757.1 1349.8 1759.1 1350.1 1761.1 1350.4 1763.0 1350.8 1765.0 1351.1 1767.0 1351.4 1769.0 1351.7 1771.0 1352.0 1772.9 1352.3 1774.9 1352.6 1776.9 1352.9 1778.9 1353.2 1780.8 1353.5 1782.8 1353.8 1784.8 1354.1 1786.8 1354.4 1788.7 1354.7 1790.7 1355.0 1792.7 1355.2 1794.7 1355.5 1796.7 1355.7 1798.7 1356.0 1800.7 1356.2 1802.6 1356.5 1804.6 1356.7 1806.6 1357.0 1808.6 1357.2 1810.6 1357.5 1812.6 1357.7 1814.5 1358.0 1816.5 1358.2 1818.5 1358.5 1820.5 1358.7 1822.5 1359.0 1824.5 1359.2 1826.5 1359.5 1828.4 1359.7 1830.4 1360.0 1832.4 1360.2 1834.4 1360.5 1836.4 1360.9 1838.3 1361.2 1840.3 1361.6 1842.2 1362.0 1844.2 1362.4 1846.2 1362.8 1848.1 1363.2 1850.1 1363.5 1852.1 1363.9 1854.0 1364.3 1856.0 1364.7 1857.9 1365.1 1859.9 1365.5 1861.9 1365.9 1863.8 1366.3 1865.8 1366.7 1867.8 1367.0 1869.7 1367.3 1871.7 1367.6 1873.7 1367.8 1875.7 1368.0 1877.7 1368.2 1879.7 1368.4 1881.7 1368.6 1883.7 1368.8 1885.6 1369.0 1887.6 1369.2 1889.6 1369.4 1891.6 1369.6 1893.6 1369.8 1895.6 1370.0 1897.6 1370.2 1899.6 1370.4 1901.6 1370.6 1903.6 1370.8 1905.5 1371.0 1907.5 1371.2 1909.5 1371.4 1911.5 1371.6 1913.5 1371.8 1915.5 1372.0 1917.5 1372.2 1919.5 1372.4 1921.5 1372.6 1923.5 1372.8 1925.5 1372.9 1927.5 1373.0 1929.5 1373.2 1931.4 1373.2 1933.4 1373.3 1935.4 1373.4 1937.4 1373.5 1939.4 1373.5 1941.4 1373.6 1943.4 1373.7 1945.4 1373.7 1947.4 1373.8 1949.4 1373.9 1951.4 1373.9 1953.4 1374.0 1955.4 1374.1 1957.4 1374.1 1959.4 1374.2 1961.4 1374.3 1963.4 1374.3 1965.4 1374.4 1967.4 1374.5 1969.4 1374.5 1971.4 1374.6 1973.4 1374.7 1975.4 1374.7 1977.4 1374.8 1979.4 1374.9 1981.4 1374.9 1983.4 1375.0 1985.4 1375.1 1987.4 1375.1 1989.4 1375.2 1991.4 1375.3 1993.4 1375.3 1995.4 1375.4 1997.4 1375.5 1999.4 1375.5 2001.4 1375.6 2003.4 1375.7 2005.4 1375.8 2007.4 1375.8 2009.4 1375.9 2011.4 1376.0 2013.4 1376.1 2015.4 1376.1 2017.4 1376.2 2019.4 1376.3 2021.4 1376.3 2023.4 1376.4 2025.4 1376.5 2027.4 1376.6 2029.4 1376.6 2031.4 1376.7 2033.4 1376.8 2035.4 1376.8 2037.4 1376.9 2039.4 1377.0 2041.4 1377.1 2043.4 1377.1 2045.4 1377.2 2047.4 1377.3 2049.4 1377.3 2051.4 1377.4 2053.4 1377.5 2055.4 1377.6 2057.4 1377.6 2059.4 1377.7" stroke="#741f37"/>
</g>
<text x="248.5" y="1403.1" font-size="52.0" text-anchor="end" textLength="70.3" lengthAdjust="spacingAndGlyphs">0.0</text>
<text x="248.5" y="1142.3" font-size="52.0" text-anchor="end" textLength="70.3" lengthAdjust="spacingAndGlyphs">0.2</text>
<text x="248.5" y="881.5" font-size="52.0" text-anchor="end" textLength="70.3" lengthAdjust="spacingAndGlyphs">0.4</text>
<text x="248.5" y="620.7" font-size="52.0" text-anchor="end" textLength="70.3" lengthAdjust="spacingAndGlyphs">0.6</text>
<text x="248.5" y="359.9" font-size="52.0" text-anchor="end" textLength="70.3" lengthAdjust="spacingAndGlyphs">0.8</text>
<text x="248.5" y="99.1" font-size="52.0" text-anchor="end" textLength="70.3" lengthAdjust="spacingAndGlyphs">1.0</text>
<text x="294.5" y="1474.6" font-size="54.3" text-anchor="middle" textLength="87.0" lengthAdjust="spacingAndGlyphs">450</text>
<text x="532.9" y="1474.6" font-size="54.3" text-anchor="middle" textLength="87.0" lengthAdjust="spacingAndGlyphs">500</text>
<text x="771.3" y="1474.6" font-size="54.3" text-anchor="middle" textLength="87.0" lengthAdjust="spacingAndGlyphs">550</text>
<text x="1009.7" y="1474.6" font-size="54.3" text-anchor="middle" textLength="87.0" lengthAdjust="spacingAndGlyphs">600</text>
<text x="1248.1" y="1474.6" font-size="54.3" text-anchor="middle" textLength="87.0" lengthAdjust="spacingAndGlyphs">650</text>
<text x="1486.5" y="1474.6" font-size="54.3" text-anchor="middle" textLength="87.0" lengthAdjust="spacingAndGlyphs">700</text>
<text x="1724.9" y="1474.6" font-size="54.3" text-anchor="middle" textLength="87.0" lengthAdjust="spacingAndGlyphs">750</text>
<text x="1963.3" y="1474.6" font-size="54.3" text-anchor="middle" textLength="87.0" lengthAdjust="spacingAndGlyphs">800</text>
<text x="1177.3" y="1578.8" font-size="64.5" text-anchor="middle" textLength="486.0" lengthAdjust="spacingAndGlyphs">Wavelength [nm]</text>
<text transform="translate(81.5 745.4) rotate(-90)" font-size="64.5" text-anchor="middle" textLength="578.0" lengthAdjust="spacingAndGlyphs">Normalized intensity</text>
<path d="M1552 65.0H1713" stroke="#1767b0" stroke-width="10.5" stroke-linecap="round"/>
<clipPath id="c89"><path d="M1728.1 19.8H1793.1V81.9H1760.3V94.8H1750.3V81.9H1728.1Z"/></clipPath>
<text x="1733.1" y="89.8" font-size="74.4" class="n2" clip-path="url(#c89)">1</text>
<text x="1792.3" y="89.8" font-size="72.0" textLength="210.2" lengthAdjust="spacingAndGlyphs">in 77K</text>
<path d="M1552 180.0H1713" stroke="#007f00" stroke-width="10.5" stroke-linecap="round"/>
<clipPath id="c204"><path d="M1728.1 134.7H1793.1V196.8H1760.3V209.7H1750.3V196.8H1728.1Z"/></clipPath>
<text x="1733.1" y="204.7" font-size="74.4" class="n2" clip-path="url(#c204)">1</text>
<text x="1792.3" y="204.7" font-size="72.0" textLength="412.0" lengthAdjust="spacingAndGlyphs">in solid state</text>
<path d="M1552 295.0H1713" stroke="#741f37" stroke-width="10.5" stroke-linecap="round"/>
<text x="1733.0" y="319.6" font-size="72.0" class="n2">2</text>
<text x="1792.3" y="319.6" font-size="72.0" textLength="210.2" lengthAdjust="spacingAndGlyphs">in 77K</text>
<path d="M1552 410.0H1713" stroke="#ff0000" stroke-width="10.5" stroke-linecap="round"/>
<text x="1733.0" y="434.5" font-size="72.0" class="n2">2</text>
<text x="1792.3" y="434.5" font-size="72.0" textLength="412.0" lengthAdjust="spacingAndGlyphs">in solid state</text>
</svg></body></html>
